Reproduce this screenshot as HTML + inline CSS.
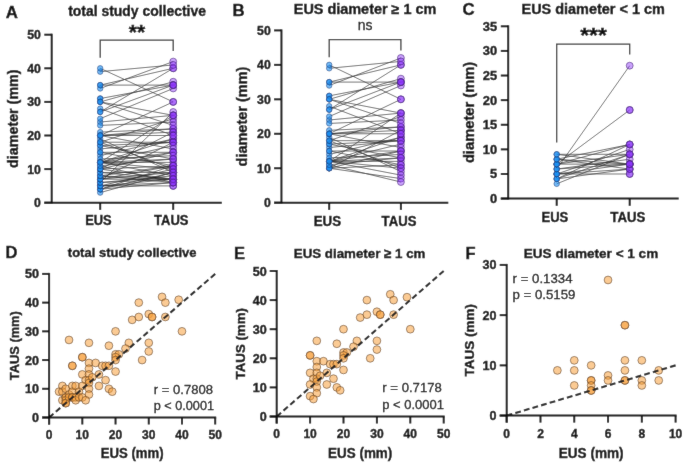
<!DOCTYPE html>
<html><head><meta charset="utf-8"><style>
html,body{margin:0;padding:0;background:#fff;overflow:hidden;}

svg{display:block;font-family:"Liberation Sans", sans-serif;}
</style></head><body>
<svg width="685" height="463" viewBox="0 0 685 463">
<defs><filter id="bl" x="0" y="0" width="685" height="463" filterUnits="userSpaceOnUse"><feConvolveMatrix order="3" kernelMatrix="0.01 0.05 0.01 0.05 0.76 0.05 0.01 0.05 0.01" edgeMode="duplicate" preserveAlpha="true"/></filter></defs>
<g filter="url(#bl)"><rect width="685" height="463" fill="#fff"/>
<text x="5.80" y="18.00" font-size="16.8" font-weight="bold" text-anchor="start" fill="#111" stroke="#111" stroke-width="0.4" >A</text>
<text x="137.10" y="16.00" font-size="14" font-weight="bold" text-anchor="middle" fill="#111" stroke="#111" stroke-width="0.4" textLength="137.80" lengthAdjust="spacingAndGlyphs" >total study collective</text>
<line x1="100.20" y1="192.62" x2="173.20" y2="172.46" stroke="#1c1c1c" stroke-width="0.62" />
<line x1="100.20" y1="189.26" x2="173.20" y2="182.54" stroke="#1c1c1c" stroke-width="0.62" />
<line x1="100.20" y1="189.26" x2="173.20" y2="172.46" stroke="#1c1c1c" stroke-width="0.62" />
<line x1="100.20" y1="189.26" x2="173.20" y2="165.74" stroke="#1c1c1c" stroke-width="0.62" />
<line x1="100.20" y1="185.90" x2="173.20" y2="185.90" stroke="#1c1c1c" stroke-width="0.62" />
<line x1="100.20" y1="185.90" x2="173.20" y2="182.54" stroke="#1c1c1c" stroke-width="0.62" />
<line x1="100.20" y1="185.90" x2="173.20" y2="179.18" stroke="#1c1c1c" stroke-width="0.62" />
<line x1="100.20" y1="185.90" x2="173.20" y2="169.10" stroke="#1c1c1c" stroke-width="0.62" />
<line x1="100.20" y1="182.54" x2="173.20" y2="179.18" stroke="#1c1c1c" stroke-width="0.62" />
<line x1="100.20" y1="182.54" x2="173.20" y2="175.82" stroke="#1c1c1c" stroke-width="0.62" />
<line x1="100.20" y1="182.54" x2="173.20" y2="111.98" stroke="#1c1c1c" stroke-width="0.62" />
<line x1="100.20" y1="179.18" x2="173.20" y2="179.18" stroke="#1c1c1c" stroke-width="0.62" />
<line x1="100.20" y1="179.18" x2="173.20" y2="172.46" stroke="#1c1c1c" stroke-width="0.62" />
<line x1="100.20" y1="179.18" x2="173.20" y2="165.74" stroke="#1c1c1c" stroke-width="0.62" />
<line x1="100.20" y1="179.18" x2="173.20" y2="142.22" stroke="#1c1c1c" stroke-width="0.62" />
<line x1="100.20" y1="175.82" x2="173.20" y2="182.54" stroke="#1c1c1c" stroke-width="0.62" />
<line x1="100.20" y1="175.82" x2="173.20" y2="179.18" stroke="#1c1c1c" stroke-width="0.62" />
<line x1="100.20" y1="175.82" x2="173.20" y2="165.74" stroke="#1c1c1c" stroke-width="0.62" />
<line x1="100.20" y1="172.46" x2="173.20" y2="179.18" stroke="#1c1c1c" stroke-width="0.62" />
<line x1="100.20" y1="172.46" x2="173.20" y2="172.46" stroke="#1c1c1c" stroke-width="0.62" />
<line x1="100.20" y1="169.10" x2="173.20" y2="179.18" stroke="#1c1c1c" stroke-width="0.62" />
<line x1="100.20" y1="169.10" x2="173.20" y2="165.74" stroke="#1c1c1c" stroke-width="0.62" />
<line x1="100.20" y1="169.10" x2="173.20" y2="152.30" stroke="#1c1c1c" stroke-width="0.62" />
<line x1="100.20" y1="169.10" x2="173.20" y2="132.14" stroke="#1c1c1c" stroke-width="0.62" />
<line x1="100.20" y1="165.74" x2="173.20" y2="182.54" stroke="#1c1c1c" stroke-width="0.62" />
<line x1="100.20" y1="165.74" x2="173.20" y2="159.02" stroke="#1c1c1c" stroke-width="0.62" />
<line x1="100.20" y1="162.38" x2="173.20" y2="175.82" stroke="#1c1c1c" stroke-width="0.62" />
<line x1="100.20" y1="162.38" x2="173.20" y2="169.10" stroke="#1c1c1c" stroke-width="0.62" />
<line x1="100.20" y1="162.38" x2="173.20" y2="162.38" stroke="#1c1c1c" stroke-width="0.62" />
<line x1="100.20" y1="162.38" x2="173.20" y2="159.02" stroke="#1c1c1c" stroke-width="0.62" />
<line x1="100.20" y1="162.38" x2="173.20" y2="152.30" stroke="#1c1c1c" stroke-width="0.62" />
<line x1="100.20" y1="162.38" x2="173.20" y2="145.58" stroke="#1c1c1c" stroke-width="0.62" />
<line x1="100.20" y1="162.38" x2="173.20" y2="138.86" stroke="#1c1c1c" stroke-width="0.62" />
<line x1="100.20" y1="162.38" x2="173.20" y2="115.34" stroke="#1c1c1c" stroke-width="0.62" />
<line x1="100.20" y1="159.02" x2="173.20" y2="155.66" stroke="#1c1c1c" stroke-width="0.62" />
<line x1="100.20" y1="155.66" x2="173.20" y2="138.86" stroke="#1c1c1c" stroke-width="0.62" />
<line x1="100.20" y1="152.30" x2="173.20" y2="165.74" stroke="#1c1c1c" stroke-width="0.62" />
<line x1="100.20" y1="152.30" x2="173.20" y2="152.30" stroke="#1c1c1c" stroke-width="0.62" />
<line x1="100.20" y1="148.94" x2="173.20" y2="142.22" stroke="#1c1c1c" stroke-width="0.62" />
<line x1="100.20" y1="145.58" x2="173.20" y2="159.02" stroke="#1c1c1c" stroke-width="0.62" />
<line x1="100.20" y1="145.58" x2="173.20" y2="142.22" stroke="#1c1c1c" stroke-width="0.62" />
<line x1="100.20" y1="142.22" x2="173.20" y2="169.10" stroke="#1c1c1c" stroke-width="0.62" />
<line x1="100.20" y1="142.22" x2="173.20" y2="142.22" stroke="#1c1c1c" stroke-width="0.62" />
<line x1="100.20" y1="142.22" x2="173.20" y2="118.70" stroke="#1c1c1c" stroke-width="0.62" />
<line x1="100.20" y1="138.86" x2="173.20" y2="172.46" stroke="#1c1c1c" stroke-width="0.62" />
<line x1="100.20" y1="135.50" x2="173.20" y2="148.94" stroke="#1c1c1c" stroke-width="0.62" />
<line x1="100.20" y1="135.50" x2="173.20" y2="135.50" stroke="#1c1c1c" stroke-width="0.62" />
<line x1="100.20" y1="135.50" x2="173.20" y2="132.14" stroke="#1c1c1c" stroke-width="0.62" />
<line x1="100.20" y1="135.50" x2="173.20" y2="128.78" stroke="#1c1c1c" stroke-width="0.62" />
<line x1="100.20" y1="135.50" x2="173.20" y2="101.90" stroke="#1c1c1c" stroke-width="0.62" />
<line x1="100.20" y1="132.14" x2="173.20" y2="128.78" stroke="#1c1c1c" stroke-width="0.62" />
<line x1="100.20" y1="125.42" x2="173.20" y2="122.06" stroke="#1c1c1c" stroke-width="0.62" />
<line x1="100.20" y1="122.06" x2="173.20" y2="115.34" stroke="#1c1c1c" stroke-width="0.62" />
<line x1="100.20" y1="118.70" x2="173.20" y2="88.46" stroke="#1c1c1c" stroke-width="0.62" />
<line x1="100.20" y1="111.98" x2="173.20" y2="85.10" stroke="#1c1c1c" stroke-width="0.62" />
<line x1="100.20" y1="111.98" x2="173.20" y2="68.30" stroke="#1c1c1c" stroke-width="0.62" />
<line x1="100.20" y1="108.62" x2="173.20" y2="135.50" stroke="#1c1c1c" stroke-width="0.62" />
<line x1="100.20" y1="101.90" x2="173.20" y2="125.42" stroke="#1c1c1c" stroke-width="0.62" />
<line x1="100.20" y1="101.90" x2="173.20" y2="115.34" stroke="#1c1c1c" stroke-width="0.62" />
<line x1="100.20" y1="101.90" x2="173.20" y2="81.74" stroke="#1c1c1c" stroke-width="0.62" />
<line x1="100.20" y1="98.54" x2="173.20" y2="85.10" stroke="#1c1c1c" stroke-width="0.62" />
<line x1="100.20" y1="88.46" x2="173.20" y2="61.58" stroke="#1c1c1c" stroke-width="0.62" />
<line x1="100.20" y1="85.10" x2="173.20" y2="85.10" stroke="#1c1c1c" stroke-width="0.62" />
<line x1="100.20" y1="85.10" x2="173.20" y2="68.30" stroke="#1c1c1c" stroke-width="0.62" />
<line x1="100.20" y1="71.66" x2="173.20" y2="64.94" stroke="#1c1c1c" stroke-width="0.62" />
<line x1="100.20" y1="68.30" x2="173.20" y2="101.90" stroke="#1c1c1c" stroke-width="0.62" />
<circle cx="100.20" cy="192.62" r="2.75" fill="rgba(30,144,240,0.62)" stroke="rgba(20,60,120,0.75)" stroke-width="0.7"/>
<circle cx="100.20" cy="189.26" r="2.75" fill="rgba(30,144,240,0.62)" stroke="rgba(20,60,120,0.75)" stroke-width="0.7"/>
<circle cx="100.20" cy="189.26" r="2.75" fill="rgba(30,144,240,0.62)" stroke="rgba(20,60,120,0.75)" stroke-width="0.7"/>
<circle cx="100.20" cy="189.26" r="2.75" fill="rgba(30,144,240,0.62)" stroke="rgba(20,60,120,0.75)" stroke-width="0.7"/>
<circle cx="100.20" cy="185.90" r="2.75" fill="rgba(30,144,240,0.62)" stroke="rgba(20,60,120,0.75)" stroke-width="0.7"/>
<circle cx="100.20" cy="185.90" r="2.75" fill="rgba(30,144,240,0.62)" stroke="rgba(20,60,120,0.75)" stroke-width="0.7"/>
<circle cx="100.20" cy="185.90" r="2.75" fill="rgba(30,144,240,0.62)" stroke="rgba(20,60,120,0.75)" stroke-width="0.7"/>
<circle cx="100.20" cy="185.90" r="2.75" fill="rgba(30,144,240,0.62)" stroke="rgba(20,60,120,0.75)" stroke-width="0.7"/>
<circle cx="100.20" cy="185.90" r="2.75" fill="rgba(30,144,240,0.62)" stroke="rgba(20,60,120,0.75)" stroke-width="0.7"/>
<circle cx="100.20" cy="185.90" r="2.75" fill="rgba(30,144,240,0.62)" stroke="rgba(20,60,120,0.75)" stroke-width="0.7"/>
<circle cx="100.20" cy="182.54" r="2.75" fill="rgba(30,144,240,0.62)" stroke="rgba(20,60,120,0.75)" stroke-width="0.7"/>
<circle cx="100.20" cy="182.54" r="2.75" fill="rgba(30,144,240,0.62)" stroke="rgba(20,60,120,0.75)" stroke-width="0.7"/>
<circle cx="100.20" cy="182.54" r="2.75" fill="rgba(30,144,240,0.62)" stroke="rgba(20,60,120,0.75)" stroke-width="0.7"/>
<circle cx="100.20" cy="179.18" r="2.75" fill="rgba(30,144,240,0.62)" stroke="rgba(20,60,120,0.75)" stroke-width="0.7"/>
<circle cx="100.20" cy="179.18" r="2.75" fill="rgba(30,144,240,0.62)" stroke="rgba(20,60,120,0.75)" stroke-width="0.7"/>
<circle cx="100.20" cy="179.18" r="2.75" fill="rgba(30,144,240,0.62)" stroke="rgba(20,60,120,0.75)" stroke-width="0.7"/>
<circle cx="100.20" cy="179.18" r="2.75" fill="rgba(30,144,240,0.62)" stroke="rgba(20,60,120,0.75)" stroke-width="0.7"/>
<circle cx="100.20" cy="179.18" r="2.75" fill="rgba(30,144,240,0.62)" stroke="rgba(20,60,120,0.75)" stroke-width="0.7"/>
<circle cx="100.20" cy="179.18" r="2.75" fill="rgba(30,144,240,0.62)" stroke="rgba(20,60,120,0.75)" stroke-width="0.7"/>
<circle cx="100.20" cy="175.82" r="2.75" fill="rgba(30,144,240,0.62)" stroke="rgba(20,60,120,0.75)" stroke-width="0.7"/>
<circle cx="100.20" cy="175.82" r="2.75" fill="rgba(30,144,240,0.62)" stroke="rgba(20,60,120,0.75)" stroke-width="0.7"/>
<circle cx="100.20" cy="175.82" r="2.75" fill="rgba(30,144,240,0.62)" stroke="rgba(20,60,120,0.75)" stroke-width="0.7"/>
<circle cx="100.20" cy="172.46" r="2.75" fill="rgba(30,144,240,0.62)" stroke="rgba(20,60,120,0.75)" stroke-width="0.7"/>
<circle cx="100.20" cy="172.46" r="2.75" fill="rgba(30,144,240,0.62)" stroke="rgba(20,60,120,0.75)" stroke-width="0.7"/>
<circle cx="100.20" cy="169.10" r="2.75" fill="rgba(30,144,240,0.62)" stroke="rgba(20,60,120,0.75)" stroke-width="0.7"/>
<circle cx="100.20" cy="169.10" r="2.75" fill="rgba(30,144,240,0.62)" stroke="rgba(20,60,120,0.75)" stroke-width="0.7"/>
<circle cx="100.20" cy="162.38" r="2.75" fill="rgba(30,144,240,0.62)" stroke="rgba(20,60,120,0.75)" stroke-width="0.7"/>
<circle cx="100.20" cy="155.66" r="2.75" fill="rgba(30,144,240,0.62)" stroke="rgba(20,60,120,0.75)" stroke-width="0.7"/>
<circle cx="100.20" cy="148.94" r="2.75" fill="rgba(30,144,240,0.62)" stroke="rgba(20,60,120,0.75)" stroke-width="0.7"/>
<circle cx="100.20" cy="145.58" r="2.75" fill="rgba(30,144,240,0.62)" stroke="rgba(20,60,120,0.75)" stroke-width="0.7"/>
<circle cx="100.20" cy="142.22" r="2.75" fill="rgba(30,144,240,0.62)" stroke="rgba(20,60,120,0.75)" stroke-width="0.7"/>
<circle cx="100.20" cy="162.38" r="2.75" fill="rgba(30,144,240,0.62)" stroke="rgba(20,60,120,0.75)" stroke-width="0.7"/>
<circle cx="100.20" cy="135.50" r="2.75" fill="rgba(30,144,240,0.62)" stroke="rgba(20,60,120,0.75)" stroke-width="0.7"/>
<circle cx="100.20" cy="169.10" r="2.75" fill="rgba(30,144,240,0.62)" stroke="rgba(20,60,120,0.75)" stroke-width="0.7"/>
<circle cx="100.20" cy="162.38" r="2.75" fill="rgba(30,144,240,0.62)" stroke="rgba(20,60,120,0.75)" stroke-width="0.7"/>
<circle cx="100.20" cy="152.30" r="2.75" fill="rgba(30,144,240,0.62)" stroke="rgba(20,60,120,0.75)" stroke-width="0.7"/>
<circle cx="100.20" cy="165.74" r="2.75" fill="rgba(30,144,240,0.62)" stroke="rgba(20,60,120,0.75)" stroke-width="0.7"/>
<circle cx="100.20" cy="162.38" r="2.75" fill="rgba(30,144,240,0.62)" stroke="rgba(20,60,120,0.75)" stroke-width="0.7"/>
<circle cx="100.20" cy="162.38" r="2.75" fill="rgba(30,144,240,0.62)" stroke="rgba(20,60,120,0.75)" stroke-width="0.7"/>
<circle cx="100.20" cy="159.02" r="2.75" fill="rgba(30,144,240,0.62)" stroke="rgba(20,60,120,0.75)" stroke-width="0.7"/>
<circle cx="100.20" cy="145.58" r="2.75" fill="rgba(30,144,240,0.62)" stroke="rgba(20,60,120,0.75)" stroke-width="0.7"/>
<circle cx="100.20" cy="169.10" r="2.75" fill="rgba(30,144,240,0.62)" stroke="rgba(20,60,120,0.75)" stroke-width="0.7"/>
<circle cx="100.20" cy="162.38" r="2.75" fill="rgba(30,144,240,0.62)" stroke="rgba(20,60,120,0.75)" stroke-width="0.7"/>
<circle cx="100.20" cy="152.30" r="2.75" fill="rgba(30,144,240,0.62)" stroke="rgba(20,60,120,0.75)" stroke-width="0.7"/>
<circle cx="100.20" cy="142.22" r="2.75" fill="rgba(30,144,240,0.62)" stroke="rgba(20,60,120,0.75)" stroke-width="0.7"/>
<circle cx="100.20" cy="138.86" r="2.75" fill="rgba(30,144,240,0.62)" stroke="rgba(20,60,120,0.75)" stroke-width="0.7"/>
<circle cx="100.20" cy="162.38" r="2.75" fill="rgba(30,144,240,0.62)" stroke="rgba(20,60,120,0.75)" stroke-width="0.7"/>
<circle cx="100.20" cy="169.10" r="2.75" fill="rgba(30,144,240,0.62)" stroke="rgba(20,60,120,0.75)" stroke-width="0.7"/>
<circle cx="100.20" cy="165.74" r="2.75" fill="rgba(30,144,240,0.62)" stroke="rgba(20,60,120,0.75)" stroke-width="0.7"/>
<circle cx="100.20" cy="162.38" r="2.75" fill="rgba(30,144,240,0.62)" stroke="rgba(20,60,120,0.75)" stroke-width="0.7"/>
<circle cx="100.20" cy="142.22" r="2.75" fill="rgba(30,144,240,0.62)" stroke="rgba(20,60,120,0.75)" stroke-width="0.7"/>
<circle cx="100.20" cy="135.50" r="2.75" fill="rgba(30,144,240,0.62)" stroke="rgba(20,60,120,0.75)" stroke-width="0.7"/>
<circle cx="100.20" cy="122.06" r="2.75" fill="rgba(30,144,240,0.62)" stroke="rgba(20,60,120,0.75)" stroke-width="0.7"/>
<circle cx="100.20" cy="125.42" r="2.75" fill="rgba(30,144,240,0.62)" stroke="rgba(20,60,120,0.75)" stroke-width="0.7"/>
<circle cx="100.20" cy="135.50" r="2.75" fill="rgba(30,144,240,0.62)" stroke="rgba(20,60,120,0.75)" stroke-width="0.7"/>
<circle cx="100.20" cy="132.14" r="2.75" fill="rgba(30,144,240,0.62)" stroke="rgba(20,60,120,0.75)" stroke-width="0.7"/>
<circle cx="100.20" cy="135.50" r="2.75" fill="rgba(30,144,240,0.62)" stroke="rgba(20,60,120,0.75)" stroke-width="0.7"/>
<circle cx="100.20" cy="135.50" r="2.75" fill="rgba(30,144,240,0.62)" stroke="rgba(20,60,120,0.75)" stroke-width="0.7"/>
<circle cx="100.20" cy="108.62" r="2.75" fill="rgba(30,144,240,0.62)" stroke="rgba(20,60,120,0.75)" stroke-width="0.7"/>
<circle cx="100.20" cy="111.98" r="2.75" fill="rgba(30,144,240,0.62)" stroke="rgba(20,60,120,0.75)" stroke-width="0.7"/>
<circle cx="100.20" cy="118.70" r="2.75" fill="rgba(30,144,240,0.62)" stroke="rgba(20,60,120,0.75)" stroke-width="0.7"/>
<circle cx="100.20" cy="111.98" r="2.75" fill="rgba(30,144,240,0.62)" stroke="rgba(20,60,120,0.75)" stroke-width="0.7"/>
<circle cx="100.20" cy="101.90" r="2.75" fill="rgba(30,144,240,0.62)" stroke="rgba(20,60,120,0.75)" stroke-width="0.7"/>
<circle cx="100.20" cy="98.54" r="2.75" fill="rgba(30,144,240,0.62)" stroke="rgba(20,60,120,0.75)" stroke-width="0.7"/>
<circle cx="100.20" cy="98.54" r="2.75" fill="rgba(30,144,240,0.62)" stroke="rgba(20,60,120,0.75)" stroke-width="0.7"/>
<circle cx="100.20" cy="85.10" r="2.75" fill="rgba(30,144,240,0.62)" stroke="rgba(20,60,120,0.75)" stroke-width="0.7"/>
<circle cx="100.20" cy="88.46" r="2.75" fill="rgba(30,144,240,0.62)" stroke="rgba(20,60,120,0.75)" stroke-width="0.7"/>
<circle cx="100.20" cy="85.10" r="2.75" fill="rgba(30,144,240,0.62)" stroke="rgba(20,60,120,0.75)" stroke-width="0.7"/>
<circle cx="100.20" cy="71.66" r="2.75" fill="rgba(30,144,240,0.62)" stroke="rgba(20,60,120,0.75)" stroke-width="0.7"/>
<circle cx="100.20" cy="68.30" r="2.75" fill="rgba(30,144,240,0.62)" stroke="rgba(20,60,120,0.75)" stroke-width="0.7"/>
<circle cx="100.20" cy="101.90" r="2.75" fill="rgba(30,144,240,0.62)" stroke="rgba(20,60,120,0.75)" stroke-width="0.7"/>
<circle cx="100.20" cy="101.90" r="2.75" fill="rgba(30,144,240,0.62)" stroke="rgba(20,60,120,0.75)" stroke-width="0.7"/>
<circle cx="173.20" cy="172.46" r="3.45" fill="rgba(140,50,250,0.45)" stroke="rgba(70,30,120,0.75)" stroke-width="0.8"/>
<circle cx="173.20" cy="165.74" r="3.45" fill="rgba(140,50,250,0.45)" stroke="rgba(70,30,120,0.75)" stroke-width="0.8"/>
<circle cx="173.20" cy="172.46" r="3.45" fill="rgba(140,50,250,0.45)" stroke="rgba(70,30,120,0.75)" stroke-width="0.8"/>
<circle cx="173.20" cy="182.54" r="3.45" fill="rgba(140,50,250,0.45)" stroke="rgba(70,30,120,0.75)" stroke-width="0.8"/>
<circle cx="173.20" cy="169.10" r="3.45" fill="rgba(140,50,250,0.45)" stroke="rgba(70,30,120,0.75)" stroke-width="0.8"/>
<circle cx="173.20" cy="179.18" r="3.45" fill="rgba(140,50,250,0.45)" stroke="rgba(70,30,120,0.75)" stroke-width="0.8"/>
<circle cx="173.20" cy="179.18" r="3.45" fill="rgba(140,50,250,0.45)" stroke="rgba(70,30,120,0.75)" stroke-width="0.8"/>
<circle cx="173.20" cy="182.54" r="3.45" fill="rgba(140,50,250,0.45)" stroke="rgba(70,30,120,0.75)" stroke-width="0.8"/>
<circle cx="173.20" cy="185.90" r="3.45" fill="rgba(140,50,250,0.45)" stroke="rgba(70,30,120,0.75)" stroke-width="0.8"/>
<circle cx="173.20" cy="185.90" r="3.45" fill="rgba(140,50,250,0.45)" stroke="rgba(70,30,120,0.75)" stroke-width="0.8"/>
<circle cx="173.20" cy="111.98" r="3.45" fill="rgba(140,50,250,0.45)" stroke="rgba(70,30,120,0.75)" stroke-width="0.8"/>
<circle cx="173.20" cy="175.82" r="3.45" fill="rgba(140,50,250,0.45)" stroke="rgba(70,30,120,0.75)" stroke-width="0.8"/>
<circle cx="173.20" cy="179.18" r="3.45" fill="rgba(140,50,250,0.45)" stroke="rgba(70,30,120,0.75)" stroke-width="0.8"/>
<circle cx="173.20" cy="142.22" r="3.45" fill="rgba(140,50,250,0.45)" stroke="rgba(70,30,120,0.75)" stroke-width="0.8"/>
<circle cx="173.20" cy="142.22" r="3.45" fill="rgba(140,50,250,0.45)" stroke="rgba(70,30,120,0.75)" stroke-width="0.8"/>
<circle cx="173.20" cy="165.74" r="3.45" fill="rgba(140,50,250,0.45)" stroke="rgba(70,30,120,0.75)" stroke-width="0.8"/>
<circle cx="173.20" cy="172.46" r="3.45" fill="rgba(140,50,250,0.45)" stroke="rgba(70,30,120,0.75)" stroke-width="0.8"/>
<circle cx="173.20" cy="179.18" r="3.45" fill="rgba(140,50,250,0.45)" stroke="rgba(70,30,120,0.75)" stroke-width="0.8"/>
<circle cx="173.20" cy="179.18" r="3.45" fill="rgba(140,50,250,0.45)" stroke="rgba(70,30,120,0.75)" stroke-width="0.8"/>
<circle cx="173.20" cy="165.74" r="3.45" fill="rgba(140,50,250,0.45)" stroke="rgba(70,30,120,0.75)" stroke-width="0.8"/>
<circle cx="173.20" cy="179.18" r="3.45" fill="rgba(140,50,250,0.45)" stroke="rgba(70,30,120,0.75)" stroke-width="0.8"/>
<circle cx="173.20" cy="182.54" r="3.45" fill="rgba(140,50,250,0.45)" stroke="rgba(70,30,120,0.75)" stroke-width="0.8"/>
<circle cx="173.20" cy="172.46" r="3.45" fill="rgba(140,50,250,0.45)" stroke="rgba(70,30,120,0.75)" stroke-width="0.8"/>
<circle cx="173.20" cy="179.18" r="3.45" fill="rgba(140,50,250,0.45)" stroke="rgba(70,30,120,0.75)" stroke-width="0.8"/>
<circle cx="173.20" cy="132.14" r="3.45" fill="rgba(140,50,250,0.45)" stroke="rgba(70,30,120,0.75)" stroke-width="0.8"/>
<circle cx="173.20" cy="132.14" r="3.45" fill="rgba(140,50,250,0.45)" stroke="rgba(70,30,120,0.75)" stroke-width="0.8"/>
<circle cx="173.20" cy="138.86" r="3.45" fill="rgba(140,50,250,0.45)" stroke="rgba(70,30,120,0.75)" stroke-width="0.8"/>
<circle cx="173.20" cy="138.86" r="3.45" fill="rgba(140,50,250,0.45)" stroke="rgba(70,30,120,0.75)" stroke-width="0.8"/>
<circle cx="173.20" cy="142.22" r="3.45" fill="rgba(140,50,250,0.45)" stroke="rgba(70,30,120,0.75)" stroke-width="0.8"/>
<circle cx="173.20" cy="142.22" r="3.45" fill="rgba(140,50,250,0.45)" stroke="rgba(70,30,120,0.75)" stroke-width="0.8"/>
<circle cx="173.20" cy="142.22" r="3.45" fill="rgba(140,50,250,0.45)" stroke="rgba(70,30,120,0.75)" stroke-width="0.8"/>
<circle cx="173.20" cy="145.58" r="3.45" fill="rgba(140,50,250,0.45)" stroke="rgba(70,30,120,0.75)" stroke-width="0.8"/>
<circle cx="173.20" cy="148.94" r="3.45" fill="rgba(140,50,250,0.45)" stroke="rgba(70,30,120,0.75)" stroke-width="0.8"/>
<circle cx="173.20" cy="152.30" r="3.45" fill="rgba(140,50,250,0.45)" stroke="rgba(70,30,120,0.75)" stroke-width="0.8"/>
<circle cx="173.20" cy="152.30" r="3.45" fill="rgba(140,50,250,0.45)" stroke="rgba(70,30,120,0.75)" stroke-width="0.8"/>
<circle cx="173.20" cy="152.30" r="3.45" fill="rgba(140,50,250,0.45)" stroke="rgba(70,30,120,0.75)" stroke-width="0.8"/>
<circle cx="173.20" cy="159.02" r="3.45" fill="rgba(140,50,250,0.45)" stroke="rgba(70,30,120,0.75)" stroke-width="0.8"/>
<circle cx="173.20" cy="159.02" r="3.45" fill="rgba(140,50,250,0.45)" stroke="rgba(70,30,120,0.75)" stroke-width="0.8"/>
<circle cx="173.20" cy="162.38" r="3.45" fill="rgba(140,50,250,0.45)" stroke="rgba(70,30,120,0.75)" stroke-width="0.8"/>
<circle cx="173.20" cy="155.66" r="3.45" fill="rgba(140,50,250,0.45)" stroke="rgba(70,30,120,0.75)" stroke-width="0.8"/>
<circle cx="173.20" cy="159.02" r="3.45" fill="rgba(140,50,250,0.45)" stroke="rgba(70,30,120,0.75)" stroke-width="0.8"/>
<circle cx="173.20" cy="165.74" r="3.45" fill="rgba(140,50,250,0.45)" stroke="rgba(70,30,120,0.75)" stroke-width="0.8"/>
<circle cx="173.20" cy="169.10" r="3.45" fill="rgba(140,50,250,0.45)" stroke="rgba(70,30,120,0.75)" stroke-width="0.8"/>
<circle cx="173.20" cy="165.74" r="3.45" fill="rgba(140,50,250,0.45)" stroke="rgba(70,30,120,0.75)" stroke-width="0.8"/>
<circle cx="173.20" cy="169.10" r="3.45" fill="rgba(140,50,250,0.45)" stroke="rgba(70,30,120,0.75)" stroke-width="0.8"/>
<circle cx="173.20" cy="172.46" r="3.45" fill="rgba(140,50,250,0.45)" stroke="rgba(70,30,120,0.75)" stroke-width="0.8"/>
<circle cx="173.20" cy="175.82" r="3.45" fill="rgba(140,50,250,0.45)" stroke="rgba(70,30,120,0.75)" stroke-width="0.8"/>
<circle cx="173.20" cy="179.18" r="3.45" fill="rgba(140,50,250,0.45)" stroke="rgba(70,30,120,0.75)" stroke-width="0.8"/>
<circle cx="173.20" cy="182.54" r="3.45" fill="rgba(140,50,250,0.45)" stroke="rgba(70,30,120,0.75)" stroke-width="0.8"/>
<circle cx="173.20" cy="115.34" r="3.45" fill="rgba(140,50,250,0.45)" stroke="rgba(70,30,120,0.75)" stroke-width="0.8"/>
<circle cx="173.20" cy="118.70" r="3.45" fill="rgba(140,50,250,0.45)" stroke="rgba(70,30,120,0.75)" stroke-width="0.8"/>
<circle cx="173.20" cy="101.90" r="3.45" fill="rgba(140,50,250,0.45)" stroke="rgba(70,30,120,0.75)" stroke-width="0.8"/>
<circle cx="173.20" cy="115.34" r="3.45" fill="rgba(140,50,250,0.45)" stroke="rgba(70,30,120,0.75)" stroke-width="0.8"/>
<circle cx="173.20" cy="122.06" r="3.45" fill="rgba(140,50,250,0.45)" stroke="rgba(70,30,120,0.75)" stroke-width="0.8"/>
<circle cx="173.20" cy="128.78" r="3.45" fill="rgba(140,50,250,0.45)" stroke="rgba(70,30,120,0.75)" stroke-width="0.8"/>
<circle cx="173.20" cy="128.78" r="3.45" fill="rgba(140,50,250,0.45)" stroke="rgba(70,30,120,0.75)" stroke-width="0.8"/>
<circle cx="173.20" cy="132.14" r="3.45" fill="rgba(140,50,250,0.45)" stroke="rgba(70,30,120,0.75)" stroke-width="0.8"/>
<circle cx="173.20" cy="135.50" r="3.45" fill="rgba(140,50,250,0.45)" stroke="rgba(70,30,120,0.75)" stroke-width="0.8"/>
<circle cx="173.20" cy="135.50" r="3.45" fill="rgba(140,50,250,0.45)" stroke="rgba(70,30,120,0.75)" stroke-width="0.8"/>
<circle cx="173.20" cy="68.30" r="3.45" fill="rgba(140,50,250,0.45)" stroke="rgba(70,30,120,0.75)" stroke-width="0.8"/>
<circle cx="173.20" cy="88.46" r="3.45" fill="rgba(140,50,250,0.45)" stroke="rgba(70,30,120,0.75)" stroke-width="0.8"/>
<circle cx="173.20" cy="85.10" r="3.45" fill="rgba(140,50,250,0.45)" stroke="rgba(70,30,120,0.75)" stroke-width="0.8"/>
<circle cx="173.20" cy="81.74" r="3.45" fill="rgba(140,50,250,0.45)" stroke="rgba(70,30,120,0.75)" stroke-width="0.8"/>
<circle cx="173.20" cy="85.10" r="3.45" fill="rgba(140,50,250,0.45)" stroke="rgba(70,30,120,0.75)" stroke-width="0.8"/>
<circle cx="173.20" cy="85.10" r="3.45" fill="rgba(140,50,250,0.45)" stroke="rgba(70,30,120,0.75)" stroke-width="0.8"/>
<circle cx="173.20" cy="85.10" r="3.45" fill="rgba(140,50,250,0.45)" stroke="rgba(70,30,120,0.75)" stroke-width="0.8"/>
<circle cx="173.20" cy="61.58" r="3.45" fill="rgba(140,50,250,0.45)" stroke="rgba(70,30,120,0.75)" stroke-width="0.8"/>
<circle cx="173.20" cy="68.30" r="3.45" fill="rgba(140,50,250,0.45)" stroke="rgba(70,30,120,0.75)" stroke-width="0.8"/>
<circle cx="173.20" cy="64.94" r="3.45" fill="rgba(140,50,250,0.45)" stroke="rgba(70,30,120,0.75)" stroke-width="0.8"/>
<circle cx="173.20" cy="101.90" r="3.45" fill="rgba(140,50,250,0.45)" stroke="rgba(70,30,120,0.75)" stroke-width="0.8"/>
<circle cx="173.20" cy="115.34" r="3.45" fill="rgba(140,50,250,0.45)" stroke="rgba(70,30,120,0.75)" stroke-width="0.8"/>
<circle cx="173.20" cy="125.42" r="3.45" fill="rgba(140,50,250,0.45)" stroke="rgba(70,30,120,0.75)" stroke-width="0.8"/>
<line x1="51.70" y1="33.70" x2="51.70" y2="203.70" stroke="#111" stroke-width="2" />
<line x1="44.30" y1="202.70" x2="221.80" y2="202.70" stroke="#111" stroke-width="2" />
<line x1="44.30" y1="202.70" x2="51.70" y2="202.70" stroke="#111" stroke-width="2" />
<text x="40.80" y="207.20" font-size="12.8" font-weight="bold" text-anchor="end" fill="#111" stroke="#111" stroke-width="0.4" textLength="6.80" lengthAdjust="spacingAndGlyphs" >0</text>
<line x1="44.30" y1="169.10" x2="51.70" y2="169.10" stroke="#111" stroke-width="2" />
<text x="40.80" y="173.60" font-size="12.8" font-weight="bold" text-anchor="end" fill="#111" stroke="#111" stroke-width="0.4" textLength="13.60" lengthAdjust="spacingAndGlyphs" >10</text>
<line x1="44.30" y1="135.50" x2="51.70" y2="135.50" stroke="#111" stroke-width="2" />
<text x="40.80" y="140.00" font-size="12.8" font-weight="bold" text-anchor="end" fill="#111" stroke="#111" stroke-width="0.4" textLength="13.60" lengthAdjust="spacingAndGlyphs" >20</text>
<line x1="44.30" y1="101.90" x2="51.70" y2="101.90" stroke="#111" stroke-width="2" />
<text x="40.80" y="106.40" font-size="12.8" font-weight="bold" text-anchor="end" fill="#111" stroke="#111" stroke-width="0.4" textLength="13.60" lengthAdjust="spacingAndGlyphs" >30</text>
<line x1="44.30" y1="68.30" x2="51.70" y2="68.30" stroke="#111" stroke-width="2" />
<text x="40.80" y="72.80" font-size="12.8" font-weight="bold" text-anchor="end" fill="#111" stroke="#111" stroke-width="0.4" textLength="13.60" lengthAdjust="spacingAndGlyphs" >40</text>
<line x1="44.30" y1="34.70" x2="51.70" y2="34.70" stroke="#111" stroke-width="2" />
<text x="40.80" y="39.20" font-size="12.8" font-weight="bold" text-anchor="end" fill="#111" stroke="#111" stroke-width="0.4" textLength="13.60" lengthAdjust="spacingAndGlyphs" >50</text>
<line x1="100.20" y1="202.70" x2="100.20" y2="209.90" stroke="#111" stroke-width="2" />
<line x1="173.20" y1="202.70" x2="173.20" y2="209.90" stroke="#111" stroke-width="2" />
<text x="98.40" y="224.60" font-size="13.9" font-weight="bold" text-anchor="middle" fill="#111" stroke="#111" stroke-width="0.4" textLength="26.50" lengthAdjust="spacingAndGlyphs" >EUS</text>
<text x="171.30" y="224.60" font-size="13.9" font-weight="bold" text-anchor="middle" fill="#111" stroke="#111" stroke-width="0.4" textLength="34.50" lengthAdjust="spacingAndGlyphs" >TAUS</text>
<path d="M100.20,57.70 V40.20 H173.20 V51.10" fill="none" stroke="#3a3a3a" stroke-width="1.3"/>
<text x="137.00" y="38.50" font-size="21" font-weight="bold" text-anchor="middle" fill="#111" stroke="#111" stroke-width="0.4" textLength="16.40" lengthAdjust="spacingAndGlyphs" >**</text>
<text x="18.30" y="118.70" font-size="14.3" font-weight="bold" text-anchor="middle" fill="#111" stroke="#111" stroke-width="0.4" textLength="98.50" lengthAdjust="spacingAndGlyphs" transform="rotate(-90 18.30 118.70)" >diameter (mm)</text>
<text x="232.40" y="16.10" font-size="16.8" font-weight="bold" text-anchor="start" fill="#111" stroke="#111" stroke-width="0.4" >B</text>
<text x="365.10" y="13.60" font-size="14" font-weight="bold" text-anchor="middle" fill="#111" stroke="#111" stroke-width="0.4" textLength="142.70" lengthAdjust="spacingAndGlyphs" >EUS diameter ≥ 1 cm</text>
<line x1="329.20" y1="168.24" x2="400.90" y2="178.58" stroke="#1c1c1c" stroke-width="0.62" />
<line x1="329.20" y1="168.24" x2="400.90" y2="164.79" stroke="#1c1c1c" stroke-width="0.62" />
<line x1="329.20" y1="168.24" x2="400.90" y2="151.01" stroke="#1c1c1c" stroke-width="0.62" />
<line x1="329.20" y1="168.24" x2="400.90" y2="130.33" stroke="#1c1c1c" stroke-width="0.62" />
<line x1="329.20" y1="164.79" x2="400.90" y2="182.02" stroke="#1c1c1c" stroke-width="0.62" />
<line x1="329.20" y1="164.79" x2="400.90" y2="157.90" stroke="#1c1c1c" stroke-width="0.62" />
<line x1="329.20" y1="161.35" x2="400.90" y2="175.13" stroke="#1c1c1c" stroke-width="0.62" />
<line x1="329.20" y1="161.35" x2="400.90" y2="168.24" stroke="#1c1c1c" stroke-width="0.62" />
<line x1="329.20" y1="161.35" x2="400.90" y2="161.35" stroke="#1c1c1c" stroke-width="0.62" />
<line x1="329.20" y1="161.35" x2="400.90" y2="157.90" stroke="#1c1c1c" stroke-width="0.62" />
<line x1="329.20" y1="161.35" x2="400.90" y2="151.01" stroke="#1c1c1c" stroke-width="0.62" />
<line x1="329.20" y1="161.35" x2="400.90" y2="144.12" stroke="#1c1c1c" stroke-width="0.62" />
<line x1="329.20" y1="161.35" x2="400.90" y2="137.23" stroke="#1c1c1c" stroke-width="0.62" />
<line x1="329.20" y1="161.35" x2="400.90" y2="113.10" stroke="#1c1c1c" stroke-width="0.62" />
<line x1="329.20" y1="157.90" x2="400.90" y2="154.46" stroke="#1c1c1c" stroke-width="0.62" />
<line x1="329.20" y1="154.46" x2="400.90" y2="137.23" stroke="#1c1c1c" stroke-width="0.62" />
<line x1="329.20" y1="151.01" x2="400.90" y2="164.79" stroke="#1c1c1c" stroke-width="0.62" />
<line x1="329.20" y1="151.01" x2="400.90" y2="151.01" stroke="#1c1c1c" stroke-width="0.62" />
<line x1="329.20" y1="147.56" x2="400.90" y2="140.67" stroke="#1c1c1c" stroke-width="0.62" />
<line x1="329.20" y1="144.12" x2="400.90" y2="157.90" stroke="#1c1c1c" stroke-width="0.62" />
<line x1="329.20" y1="144.12" x2="400.90" y2="140.67" stroke="#1c1c1c" stroke-width="0.62" />
<line x1="329.20" y1="140.67" x2="400.90" y2="168.24" stroke="#1c1c1c" stroke-width="0.62" />
<line x1="329.20" y1="140.67" x2="400.90" y2="140.67" stroke="#1c1c1c" stroke-width="0.62" />
<line x1="329.20" y1="140.67" x2="400.90" y2="116.55" stroke="#1c1c1c" stroke-width="0.62" />
<line x1="329.20" y1="137.23" x2="400.90" y2="171.69" stroke="#1c1c1c" stroke-width="0.62" />
<line x1="329.20" y1="133.78" x2="400.90" y2="147.56" stroke="#1c1c1c" stroke-width="0.62" />
<line x1="329.20" y1="133.78" x2="400.90" y2="133.78" stroke="#1c1c1c" stroke-width="0.62" />
<line x1="329.20" y1="133.78" x2="400.90" y2="130.33" stroke="#1c1c1c" stroke-width="0.62" />
<line x1="329.20" y1="133.78" x2="400.90" y2="126.89" stroke="#1c1c1c" stroke-width="0.62" />
<line x1="329.20" y1="133.78" x2="400.90" y2="99.32" stroke="#1c1c1c" stroke-width="0.62" />
<line x1="329.20" y1="130.33" x2="400.90" y2="126.89" stroke="#1c1c1c" stroke-width="0.62" />
<line x1="329.20" y1="123.44" x2="400.90" y2="120.00" stroke="#1c1c1c" stroke-width="0.62" />
<line x1="329.20" y1="120.00" x2="400.90" y2="113.10" stroke="#1c1c1c" stroke-width="0.62" />
<line x1="329.20" y1="116.55" x2="400.90" y2="85.54" stroke="#1c1c1c" stroke-width="0.62" />
<line x1="329.20" y1="109.66" x2="400.90" y2="82.09" stroke="#1c1c1c" stroke-width="0.62" />
<line x1="329.20" y1="109.66" x2="400.90" y2="64.86" stroke="#1c1c1c" stroke-width="0.62" />
<line x1="329.20" y1="106.21" x2="400.90" y2="133.78" stroke="#1c1c1c" stroke-width="0.62" />
<line x1="329.20" y1="99.32" x2="400.90" y2="123.44" stroke="#1c1c1c" stroke-width="0.62" />
<line x1="329.20" y1="99.32" x2="400.90" y2="113.10" stroke="#1c1c1c" stroke-width="0.62" />
<line x1="329.20" y1="99.32" x2="400.90" y2="78.64" stroke="#1c1c1c" stroke-width="0.62" />
<line x1="329.20" y1="95.87" x2="400.90" y2="82.09" stroke="#1c1c1c" stroke-width="0.62" />
<line x1="329.20" y1="85.54" x2="400.90" y2="57.97" stroke="#1c1c1c" stroke-width="0.62" />
<line x1="329.20" y1="82.09" x2="400.90" y2="82.09" stroke="#1c1c1c" stroke-width="0.62" />
<line x1="329.20" y1="82.09" x2="400.90" y2="64.86" stroke="#1c1c1c" stroke-width="0.62" />
<line x1="329.20" y1="68.31" x2="400.90" y2="61.41" stroke="#1c1c1c" stroke-width="0.62" />
<line x1="329.20" y1="64.86" x2="400.90" y2="99.32" stroke="#1c1c1c" stroke-width="0.62" />
<circle cx="329.20" cy="168.24" r="2.75" fill="rgba(30,144,240,0.62)" stroke="rgba(20,60,120,0.75)" stroke-width="0.7"/>
<circle cx="329.20" cy="168.24" r="2.75" fill="rgba(30,144,240,0.62)" stroke="rgba(20,60,120,0.75)" stroke-width="0.7"/>
<circle cx="329.20" cy="161.35" r="2.75" fill="rgba(30,144,240,0.62)" stroke="rgba(20,60,120,0.75)" stroke-width="0.7"/>
<circle cx="329.20" cy="154.46" r="2.75" fill="rgba(30,144,240,0.62)" stroke="rgba(20,60,120,0.75)" stroke-width="0.7"/>
<circle cx="329.20" cy="147.56" r="2.75" fill="rgba(30,144,240,0.62)" stroke="rgba(20,60,120,0.75)" stroke-width="0.7"/>
<circle cx="329.20" cy="144.12" r="2.75" fill="rgba(30,144,240,0.62)" stroke="rgba(20,60,120,0.75)" stroke-width="0.7"/>
<circle cx="329.20" cy="140.67" r="2.75" fill="rgba(30,144,240,0.62)" stroke="rgba(20,60,120,0.75)" stroke-width="0.7"/>
<circle cx="329.20" cy="161.35" r="2.75" fill="rgba(30,144,240,0.62)" stroke="rgba(20,60,120,0.75)" stroke-width="0.7"/>
<circle cx="329.20" cy="133.78" r="2.75" fill="rgba(30,144,240,0.62)" stroke="rgba(20,60,120,0.75)" stroke-width="0.7"/>
<circle cx="329.20" cy="168.24" r="2.75" fill="rgba(30,144,240,0.62)" stroke="rgba(20,60,120,0.75)" stroke-width="0.7"/>
<circle cx="329.20" cy="161.35" r="2.75" fill="rgba(30,144,240,0.62)" stroke="rgba(20,60,120,0.75)" stroke-width="0.7"/>
<circle cx="329.20" cy="151.01" r="2.75" fill="rgba(30,144,240,0.62)" stroke="rgba(20,60,120,0.75)" stroke-width="0.7"/>
<circle cx="329.20" cy="164.79" r="2.75" fill="rgba(30,144,240,0.62)" stroke="rgba(20,60,120,0.75)" stroke-width="0.7"/>
<circle cx="329.20" cy="161.35" r="2.75" fill="rgba(30,144,240,0.62)" stroke="rgba(20,60,120,0.75)" stroke-width="0.7"/>
<circle cx="329.20" cy="161.35" r="2.75" fill="rgba(30,144,240,0.62)" stroke="rgba(20,60,120,0.75)" stroke-width="0.7"/>
<circle cx="329.20" cy="157.90" r="2.75" fill="rgba(30,144,240,0.62)" stroke="rgba(20,60,120,0.75)" stroke-width="0.7"/>
<circle cx="329.20" cy="144.12" r="2.75" fill="rgba(30,144,240,0.62)" stroke="rgba(20,60,120,0.75)" stroke-width="0.7"/>
<circle cx="329.20" cy="168.24" r="2.75" fill="rgba(30,144,240,0.62)" stroke="rgba(20,60,120,0.75)" stroke-width="0.7"/>
<circle cx="329.20" cy="161.35" r="2.75" fill="rgba(30,144,240,0.62)" stroke="rgba(20,60,120,0.75)" stroke-width="0.7"/>
<circle cx="329.20" cy="151.01" r="2.75" fill="rgba(30,144,240,0.62)" stroke="rgba(20,60,120,0.75)" stroke-width="0.7"/>
<circle cx="329.20" cy="140.67" r="2.75" fill="rgba(30,144,240,0.62)" stroke="rgba(20,60,120,0.75)" stroke-width="0.7"/>
<circle cx="329.20" cy="137.23" r="2.75" fill="rgba(30,144,240,0.62)" stroke="rgba(20,60,120,0.75)" stroke-width="0.7"/>
<circle cx="329.20" cy="161.35" r="2.75" fill="rgba(30,144,240,0.62)" stroke="rgba(20,60,120,0.75)" stroke-width="0.7"/>
<circle cx="329.20" cy="168.24" r="2.75" fill="rgba(30,144,240,0.62)" stroke="rgba(20,60,120,0.75)" stroke-width="0.7"/>
<circle cx="329.20" cy="164.79" r="2.75" fill="rgba(30,144,240,0.62)" stroke="rgba(20,60,120,0.75)" stroke-width="0.7"/>
<circle cx="329.20" cy="161.35" r="2.75" fill="rgba(30,144,240,0.62)" stroke="rgba(20,60,120,0.75)" stroke-width="0.7"/>
<circle cx="329.20" cy="140.67" r="2.75" fill="rgba(30,144,240,0.62)" stroke="rgba(20,60,120,0.75)" stroke-width="0.7"/>
<circle cx="329.20" cy="133.78" r="2.75" fill="rgba(30,144,240,0.62)" stroke="rgba(20,60,120,0.75)" stroke-width="0.7"/>
<circle cx="329.20" cy="120.00" r="2.75" fill="rgba(30,144,240,0.62)" stroke="rgba(20,60,120,0.75)" stroke-width="0.7"/>
<circle cx="329.20" cy="123.44" r="2.75" fill="rgba(30,144,240,0.62)" stroke="rgba(20,60,120,0.75)" stroke-width="0.7"/>
<circle cx="329.20" cy="133.78" r="2.75" fill="rgba(30,144,240,0.62)" stroke="rgba(20,60,120,0.75)" stroke-width="0.7"/>
<circle cx="329.20" cy="130.33" r="2.75" fill="rgba(30,144,240,0.62)" stroke="rgba(20,60,120,0.75)" stroke-width="0.7"/>
<circle cx="329.20" cy="133.78" r="2.75" fill="rgba(30,144,240,0.62)" stroke="rgba(20,60,120,0.75)" stroke-width="0.7"/>
<circle cx="329.20" cy="133.78" r="2.75" fill="rgba(30,144,240,0.62)" stroke="rgba(20,60,120,0.75)" stroke-width="0.7"/>
<circle cx="329.20" cy="106.21" r="2.75" fill="rgba(30,144,240,0.62)" stroke="rgba(20,60,120,0.75)" stroke-width="0.7"/>
<circle cx="329.20" cy="109.66" r="2.75" fill="rgba(30,144,240,0.62)" stroke="rgba(20,60,120,0.75)" stroke-width="0.7"/>
<circle cx="329.20" cy="116.55" r="2.75" fill="rgba(30,144,240,0.62)" stroke="rgba(20,60,120,0.75)" stroke-width="0.7"/>
<circle cx="329.20" cy="109.66" r="2.75" fill="rgba(30,144,240,0.62)" stroke="rgba(20,60,120,0.75)" stroke-width="0.7"/>
<circle cx="329.20" cy="99.32" r="2.75" fill="rgba(30,144,240,0.62)" stroke="rgba(20,60,120,0.75)" stroke-width="0.7"/>
<circle cx="329.20" cy="95.87" r="2.75" fill="rgba(30,144,240,0.62)" stroke="rgba(20,60,120,0.75)" stroke-width="0.7"/>
<circle cx="329.20" cy="95.87" r="2.75" fill="rgba(30,144,240,0.62)" stroke="rgba(20,60,120,0.75)" stroke-width="0.7"/>
<circle cx="329.20" cy="82.09" r="2.75" fill="rgba(30,144,240,0.62)" stroke="rgba(20,60,120,0.75)" stroke-width="0.7"/>
<circle cx="329.20" cy="85.54" r="2.75" fill="rgba(30,144,240,0.62)" stroke="rgba(20,60,120,0.75)" stroke-width="0.7"/>
<circle cx="329.20" cy="82.09" r="2.75" fill="rgba(30,144,240,0.62)" stroke="rgba(20,60,120,0.75)" stroke-width="0.7"/>
<circle cx="329.20" cy="68.31" r="2.75" fill="rgba(30,144,240,0.62)" stroke="rgba(20,60,120,0.75)" stroke-width="0.7"/>
<circle cx="329.20" cy="64.86" r="2.75" fill="rgba(30,144,240,0.62)" stroke="rgba(20,60,120,0.75)" stroke-width="0.7"/>
<circle cx="329.20" cy="99.32" r="2.75" fill="rgba(30,144,240,0.62)" stroke="rgba(20,60,120,0.75)" stroke-width="0.7"/>
<circle cx="329.20" cy="99.32" r="2.75" fill="rgba(30,144,240,0.62)" stroke="rgba(20,60,120,0.75)" stroke-width="0.7"/>
<circle cx="400.90" cy="130.33" r="3.45" fill="rgba(140,50,250,0.45)" stroke="rgba(70,30,120,0.75)" stroke-width="0.8"/>
<circle cx="400.90" cy="130.33" r="3.45" fill="rgba(140,50,250,0.45)" stroke="rgba(70,30,120,0.75)" stroke-width="0.8"/>
<circle cx="400.90" cy="137.23" r="3.45" fill="rgba(140,50,250,0.45)" stroke="rgba(70,30,120,0.75)" stroke-width="0.8"/>
<circle cx="400.90" cy="137.23" r="3.45" fill="rgba(140,50,250,0.45)" stroke="rgba(70,30,120,0.75)" stroke-width="0.8"/>
<circle cx="400.90" cy="140.67" r="3.45" fill="rgba(140,50,250,0.45)" stroke="rgba(70,30,120,0.75)" stroke-width="0.8"/>
<circle cx="400.90" cy="140.67" r="3.45" fill="rgba(140,50,250,0.45)" stroke="rgba(70,30,120,0.75)" stroke-width="0.8"/>
<circle cx="400.90" cy="140.67" r="3.45" fill="rgba(140,50,250,0.45)" stroke="rgba(70,30,120,0.75)" stroke-width="0.8"/>
<circle cx="400.90" cy="144.12" r="3.45" fill="rgba(140,50,250,0.45)" stroke="rgba(70,30,120,0.75)" stroke-width="0.8"/>
<circle cx="400.90" cy="147.56" r="3.45" fill="rgba(140,50,250,0.45)" stroke="rgba(70,30,120,0.75)" stroke-width="0.8"/>
<circle cx="400.90" cy="151.01" r="3.45" fill="rgba(140,50,250,0.45)" stroke="rgba(70,30,120,0.75)" stroke-width="0.8"/>
<circle cx="400.90" cy="151.01" r="3.45" fill="rgba(140,50,250,0.45)" stroke="rgba(70,30,120,0.75)" stroke-width="0.8"/>
<circle cx="400.90" cy="151.01" r="3.45" fill="rgba(140,50,250,0.45)" stroke="rgba(70,30,120,0.75)" stroke-width="0.8"/>
<circle cx="400.90" cy="157.90" r="3.45" fill="rgba(140,50,250,0.45)" stroke="rgba(70,30,120,0.75)" stroke-width="0.8"/>
<circle cx="400.90" cy="157.90" r="3.45" fill="rgba(140,50,250,0.45)" stroke="rgba(70,30,120,0.75)" stroke-width="0.8"/>
<circle cx="400.90" cy="161.35" r="3.45" fill="rgba(140,50,250,0.45)" stroke="rgba(70,30,120,0.75)" stroke-width="0.8"/>
<circle cx="400.90" cy="154.46" r="3.45" fill="rgba(140,50,250,0.45)" stroke="rgba(70,30,120,0.75)" stroke-width="0.8"/>
<circle cx="400.90" cy="157.90" r="3.45" fill="rgba(140,50,250,0.45)" stroke="rgba(70,30,120,0.75)" stroke-width="0.8"/>
<circle cx="400.90" cy="164.79" r="3.45" fill="rgba(140,50,250,0.45)" stroke="rgba(70,30,120,0.75)" stroke-width="0.8"/>
<circle cx="400.90" cy="168.24" r="3.45" fill="rgba(140,50,250,0.45)" stroke="rgba(70,30,120,0.75)" stroke-width="0.8"/>
<circle cx="400.90" cy="164.79" r="3.45" fill="rgba(140,50,250,0.45)" stroke="rgba(70,30,120,0.75)" stroke-width="0.8"/>
<circle cx="400.90" cy="168.24" r="3.45" fill="rgba(140,50,250,0.45)" stroke="rgba(70,30,120,0.75)" stroke-width="0.8"/>
<circle cx="400.90" cy="171.69" r="3.45" fill="rgba(140,50,250,0.45)" stroke="rgba(70,30,120,0.75)" stroke-width="0.8"/>
<circle cx="400.90" cy="175.13" r="3.45" fill="rgba(140,50,250,0.45)" stroke="rgba(70,30,120,0.75)" stroke-width="0.8"/>
<circle cx="400.90" cy="178.58" r="3.45" fill="rgba(140,50,250,0.45)" stroke="rgba(70,30,120,0.75)" stroke-width="0.8"/>
<circle cx="400.90" cy="182.02" r="3.45" fill="rgba(140,50,250,0.45)" stroke="rgba(70,30,120,0.75)" stroke-width="0.8"/>
<circle cx="400.90" cy="113.10" r="3.45" fill="rgba(140,50,250,0.45)" stroke="rgba(70,30,120,0.75)" stroke-width="0.8"/>
<circle cx="400.90" cy="116.55" r="3.45" fill="rgba(140,50,250,0.45)" stroke="rgba(70,30,120,0.75)" stroke-width="0.8"/>
<circle cx="400.90" cy="99.32" r="3.45" fill="rgba(140,50,250,0.45)" stroke="rgba(70,30,120,0.75)" stroke-width="0.8"/>
<circle cx="400.90" cy="113.10" r="3.45" fill="rgba(140,50,250,0.45)" stroke="rgba(70,30,120,0.75)" stroke-width="0.8"/>
<circle cx="400.90" cy="120.00" r="3.45" fill="rgba(140,50,250,0.45)" stroke="rgba(70,30,120,0.75)" stroke-width="0.8"/>
<circle cx="400.90" cy="126.89" r="3.45" fill="rgba(140,50,250,0.45)" stroke="rgba(70,30,120,0.75)" stroke-width="0.8"/>
<circle cx="400.90" cy="126.89" r="3.45" fill="rgba(140,50,250,0.45)" stroke="rgba(70,30,120,0.75)" stroke-width="0.8"/>
<circle cx="400.90" cy="130.33" r="3.45" fill="rgba(140,50,250,0.45)" stroke="rgba(70,30,120,0.75)" stroke-width="0.8"/>
<circle cx="400.90" cy="133.78" r="3.45" fill="rgba(140,50,250,0.45)" stroke="rgba(70,30,120,0.75)" stroke-width="0.8"/>
<circle cx="400.90" cy="133.78" r="3.45" fill="rgba(140,50,250,0.45)" stroke="rgba(70,30,120,0.75)" stroke-width="0.8"/>
<circle cx="400.90" cy="64.86" r="3.45" fill="rgba(140,50,250,0.45)" stroke="rgba(70,30,120,0.75)" stroke-width="0.8"/>
<circle cx="400.90" cy="85.54" r="3.45" fill="rgba(140,50,250,0.45)" stroke="rgba(70,30,120,0.75)" stroke-width="0.8"/>
<circle cx="400.90" cy="82.09" r="3.45" fill="rgba(140,50,250,0.45)" stroke="rgba(70,30,120,0.75)" stroke-width="0.8"/>
<circle cx="400.90" cy="78.64" r="3.45" fill="rgba(140,50,250,0.45)" stroke="rgba(70,30,120,0.75)" stroke-width="0.8"/>
<circle cx="400.90" cy="82.09" r="3.45" fill="rgba(140,50,250,0.45)" stroke="rgba(70,30,120,0.75)" stroke-width="0.8"/>
<circle cx="400.90" cy="82.09" r="3.45" fill="rgba(140,50,250,0.45)" stroke="rgba(70,30,120,0.75)" stroke-width="0.8"/>
<circle cx="400.90" cy="82.09" r="3.45" fill="rgba(140,50,250,0.45)" stroke="rgba(70,30,120,0.75)" stroke-width="0.8"/>
<circle cx="400.90" cy="57.97" r="3.45" fill="rgba(140,50,250,0.45)" stroke="rgba(70,30,120,0.75)" stroke-width="0.8"/>
<circle cx="400.90" cy="64.86" r="3.45" fill="rgba(140,50,250,0.45)" stroke="rgba(70,30,120,0.75)" stroke-width="0.8"/>
<circle cx="400.90" cy="61.41" r="3.45" fill="rgba(140,50,250,0.45)" stroke="rgba(70,30,120,0.75)" stroke-width="0.8"/>
<circle cx="400.90" cy="99.32" r="3.45" fill="rgba(140,50,250,0.45)" stroke="rgba(70,30,120,0.75)" stroke-width="0.8"/>
<circle cx="400.90" cy="113.10" r="3.45" fill="rgba(140,50,250,0.45)" stroke="rgba(70,30,120,0.75)" stroke-width="0.8"/>
<circle cx="400.90" cy="123.44" r="3.45" fill="rgba(140,50,250,0.45)" stroke="rgba(70,30,120,0.75)" stroke-width="0.8"/>
<line x1="281.45" y1="29.40" x2="281.45" y2="203.70" stroke="#111" stroke-width="2" />
<line x1="274.05" y1="202.70" x2="448.30" y2="202.70" stroke="#111" stroke-width="2" />
<line x1="274.05" y1="202.70" x2="281.45" y2="202.70" stroke="#111" stroke-width="2" />
<text x="270.70" y="207.20" font-size="12.8" font-weight="bold" text-anchor="end" fill="#111" stroke="#111" stroke-width="0.4" textLength="6.80" lengthAdjust="spacingAndGlyphs" >0</text>
<line x1="274.05" y1="168.24" x2="281.45" y2="168.24" stroke="#111" stroke-width="2" />
<text x="270.70" y="172.74" font-size="12.8" font-weight="bold" text-anchor="end" fill="#111" stroke="#111" stroke-width="0.4" textLength="13.60" lengthAdjust="spacingAndGlyphs" >10</text>
<line x1="274.05" y1="133.78" x2="281.45" y2="133.78" stroke="#111" stroke-width="2" />
<text x="270.70" y="138.28" font-size="12.8" font-weight="bold" text-anchor="end" fill="#111" stroke="#111" stroke-width="0.4" textLength="13.60" lengthAdjust="spacingAndGlyphs" >20</text>
<line x1="274.05" y1="99.32" x2="281.45" y2="99.32" stroke="#111" stroke-width="2" />
<text x="270.70" y="103.82" font-size="12.8" font-weight="bold" text-anchor="end" fill="#111" stroke="#111" stroke-width="0.4" textLength="13.60" lengthAdjust="spacingAndGlyphs" >30</text>
<line x1="274.05" y1="64.86" x2="281.45" y2="64.86" stroke="#111" stroke-width="2" />
<text x="270.70" y="69.36" font-size="12.8" font-weight="bold" text-anchor="end" fill="#111" stroke="#111" stroke-width="0.4" textLength="13.60" lengthAdjust="spacingAndGlyphs" >40</text>
<line x1="274.05" y1="30.40" x2="281.45" y2="30.40" stroke="#111" stroke-width="2" />
<text x="270.70" y="34.90" font-size="12.8" font-weight="bold" text-anchor="end" fill="#111" stroke="#111" stroke-width="0.4" textLength="13.60" lengthAdjust="spacingAndGlyphs" >50</text>
<line x1="329.20" y1="202.70" x2="329.20" y2="209.90" stroke="#111" stroke-width="2" />
<line x1="400.90" y1="202.70" x2="400.90" y2="209.90" stroke="#111" stroke-width="2" />
<text x="327.40" y="225.50" font-size="13.9" font-weight="bold" text-anchor="middle" fill="#111" stroke="#111" stroke-width="0.4" textLength="27.40" lengthAdjust="spacingAndGlyphs" >EUS</text>
<text x="399.00" y="225.50" font-size="13.9" font-weight="bold" text-anchor="middle" fill="#111" stroke="#111" stroke-width="0.4" textLength="34.80" lengthAdjust="spacingAndGlyphs" >TAUS</text>
<path d="M329.20,57.30 V39.60 H400.90 V50.50" fill="none" stroke="#3a3a3a" stroke-width="1.3"/>
<text x="365.20" y="30.00" font-size="15.5" font-weight="normal" text-anchor="middle" fill="#111" stroke="#111" stroke-width="0.3" textLength="14.80" lengthAdjust="spacingAndGlyphs" >ns</text>
<text x="247.50" y="116.55" font-size="14.3" font-weight="bold" text-anchor="middle" fill="#111" stroke="#111" stroke-width="0.4" textLength="99.80" lengthAdjust="spacingAndGlyphs" transform="rotate(-90 247.50 116.55)" >diameter (mm)</text>
<text x="462.40" y="15.10" font-size="16.8" font-weight="bold" text-anchor="start" fill="#111" stroke="#111" stroke-width="0.4" >C</text>
<text x="593.20" y="14.10" font-size="14" font-weight="bold" text-anchor="middle" fill="#111" stroke="#111" stroke-width="0.4" textLength="143.40" lengthAdjust="spacingAndGlyphs" >EUS diameter &lt; 1 cm</text>
<line x1="556.70" y1="183.83" x2="629.70" y2="154.29" stroke="#1c1c1c" stroke-width="0.62" />
<line x1="556.70" y1="178.91" x2="629.70" y2="169.06" stroke="#1c1c1c" stroke-width="0.62" />
<line x1="556.70" y1="178.91" x2="629.70" y2="154.29" stroke="#1c1c1c" stroke-width="0.62" />
<line x1="556.70" y1="178.91" x2="629.70" y2="144.45" stroke="#1c1c1c" stroke-width="0.62" />
<line x1="556.70" y1="173.99" x2="629.70" y2="173.99" stroke="#1c1c1c" stroke-width="0.62" />
<line x1="556.70" y1="173.99" x2="629.70" y2="169.06" stroke="#1c1c1c" stroke-width="0.62" />
<line x1="556.70" y1="173.99" x2="629.70" y2="164.14" stroke="#1c1c1c" stroke-width="0.62" />
<line x1="556.70" y1="173.99" x2="629.70" y2="149.37" stroke="#1c1c1c" stroke-width="0.62" />
<line x1="556.70" y1="169.06" x2="629.70" y2="164.14" stroke="#1c1c1c" stroke-width="0.62" />
<line x1="556.70" y1="169.06" x2="629.70" y2="159.22" stroke="#1c1c1c" stroke-width="0.62" />
<line x1="556.70" y1="169.06" x2="629.70" y2="65.68" stroke="#1c1c1c" stroke-width="0.62" />
<line x1="556.70" y1="164.14" x2="629.70" y2="164.14" stroke="#1c1c1c" stroke-width="0.62" />
<line x1="556.70" y1="164.14" x2="629.70" y2="154.29" stroke="#1c1c1c" stroke-width="0.62" />
<line x1="556.70" y1="164.14" x2="629.70" y2="144.45" stroke="#1c1c1c" stroke-width="0.62" />
<line x1="556.70" y1="164.14" x2="629.70" y2="109.99" stroke="#1c1c1c" stroke-width="0.62" />
<line x1="556.70" y1="159.22" x2="629.70" y2="169.06" stroke="#1c1c1c" stroke-width="0.62" />
<line x1="556.70" y1="159.22" x2="629.70" y2="164.14" stroke="#1c1c1c" stroke-width="0.62" />
<line x1="556.70" y1="159.22" x2="629.70" y2="144.45" stroke="#1c1c1c" stroke-width="0.62" />
<line x1="556.70" y1="154.29" x2="629.70" y2="164.14" stroke="#1c1c1c" stroke-width="0.62" />
<line x1="556.70" y1="154.29" x2="629.70" y2="154.29" stroke="#1c1c1c" stroke-width="0.62" />
<circle cx="556.70" cy="183.83" r="2.75" fill="rgba(30,144,240,0.62)" stroke="rgba(20,60,120,0.75)" stroke-width="0.7"/>
<circle cx="556.70" cy="178.91" r="2.75" fill="rgba(30,144,240,0.62)" stroke="rgba(20,60,120,0.75)" stroke-width="0.7"/>
<circle cx="556.70" cy="178.91" r="2.75" fill="rgba(30,144,240,0.62)" stroke="rgba(20,60,120,0.75)" stroke-width="0.7"/>
<circle cx="556.70" cy="178.91" r="2.75" fill="rgba(30,144,240,0.62)" stroke="rgba(20,60,120,0.75)" stroke-width="0.7"/>
<circle cx="556.70" cy="173.99" r="2.75" fill="rgba(30,144,240,0.62)" stroke="rgba(20,60,120,0.75)" stroke-width="0.7"/>
<circle cx="556.70" cy="173.99" r="2.75" fill="rgba(30,144,240,0.62)" stroke="rgba(20,60,120,0.75)" stroke-width="0.7"/>
<circle cx="556.70" cy="173.99" r="2.75" fill="rgba(30,144,240,0.62)" stroke="rgba(20,60,120,0.75)" stroke-width="0.7"/>
<circle cx="556.70" cy="173.99" r="2.75" fill="rgba(30,144,240,0.62)" stroke="rgba(20,60,120,0.75)" stroke-width="0.7"/>
<circle cx="556.70" cy="173.99" r="2.75" fill="rgba(30,144,240,0.62)" stroke="rgba(20,60,120,0.75)" stroke-width="0.7"/>
<circle cx="556.70" cy="173.99" r="2.75" fill="rgba(30,144,240,0.62)" stroke="rgba(20,60,120,0.75)" stroke-width="0.7"/>
<circle cx="556.70" cy="169.06" r="2.75" fill="rgba(30,144,240,0.62)" stroke="rgba(20,60,120,0.75)" stroke-width="0.7"/>
<circle cx="556.70" cy="169.06" r="2.75" fill="rgba(30,144,240,0.62)" stroke="rgba(20,60,120,0.75)" stroke-width="0.7"/>
<circle cx="556.70" cy="169.06" r="2.75" fill="rgba(30,144,240,0.62)" stroke="rgba(20,60,120,0.75)" stroke-width="0.7"/>
<circle cx="556.70" cy="164.14" r="2.75" fill="rgba(30,144,240,0.62)" stroke="rgba(20,60,120,0.75)" stroke-width="0.7"/>
<circle cx="556.70" cy="164.14" r="2.75" fill="rgba(30,144,240,0.62)" stroke="rgba(20,60,120,0.75)" stroke-width="0.7"/>
<circle cx="556.70" cy="164.14" r="2.75" fill="rgba(30,144,240,0.62)" stroke="rgba(20,60,120,0.75)" stroke-width="0.7"/>
<circle cx="556.70" cy="164.14" r="2.75" fill="rgba(30,144,240,0.62)" stroke="rgba(20,60,120,0.75)" stroke-width="0.7"/>
<circle cx="556.70" cy="164.14" r="2.75" fill="rgba(30,144,240,0.62)" stroke="rgba(20,60,120,0.75)" stroke-width="0.7"/>
<circle cx="556.70" cy="164.14" r="2.75" fill="rgba(30,144,240,0.62)" stroke="rgba(20,60,120,0.75)" stroke-width="0.7"/>
<circle cx="556.70" cy="159.22" r="2.75" fill="rgba(30,144,240,0.62)" stroke="rgba(20,60,120,0.75)" stroke-width="0.7"/>
<circle cx="556.70" cy="159.22" r="2.75" fill="rgba(30,144,240,0.62)" stroke="rgba(20,60,120,0.75)" stroke-width="0.7"/>
<circle cx="556.70" cy="159.22" r="2.75" fill="rgba(30,144,240,0.62)" stroke="rgba(20,60,120,0.75)" stroke-width="0.7"/>
<circle cx="556.70" cy="154.29" r="2.75" fill="rgba(30,144,240,0.62)" stroke="rgba(20,60,120,0.75)" stroke-width="0.7"/>
<circle cx="556.70" cy="154.29" r="2.75" fill="rgba(30,144,240,0.62)" stroke="rgba(20,60,120,0.75)" stroke-width="0.7"/>
<circle cx="629.70" cy="154.29" r="3.45" fill="rgba(140,50,250,0.45)" stroke="rgba(70,30,120,0.75)" stroke-width="0.8"/>
<circle cx="629.70" cy="144.45" r="3.45" fill="rgba(140,50,250,0.45)" stroke="rgba(70,30,120,0.75)" stroke-width="0.8"/>
<circle cx="629.70" cy="154.29" r="3.45" fill="rgba(140,50,250,0.45)" stroke="rgba(70,30,120,0.75)" stroke-width="0.8"/>
<circle cx="629.70" cy="169.06" r="3.45" fill="rgba(140,50,250,0.45)" stroke="rgba(70,30,120,0.75)" stroke-width="0.8"/>
<circle cx="629.70" cy="149.37" r="3.45" fill="rgba(140,50,250,0.45)" stroke="rgba(70,30,120,0.75)" stroke-width="0.8"/>
<circle cx="629.70" cy="164.14" r="3.45" fill="rgba(140,50,250,0.45)" stroke="rgba(70,30,120,0.75)" stroke-width="0.8"/>
<circle cx="629.70" cy="164.14" r="3.45" fill="rgba(140,50,250,0.45)" stroke="rgba(70,30,120,0.75)" stroke-width="0.8"/>
<circle cx="629.70" cy="169.06" r="3.45" fill="rgba(140,50,250,0.45)" stroke="rgba(70,30,120,0.75)" stroke-width="0.8"/>
<circle cx="629.70" cy="173.99" r="3.45" fill="rgba(140,50,250,0.45)" stroke="rgba(70,30,120,0.75)" stroke-width="0.8"/>
<circle cx="629.70" cy="173.99" r="3.45" fill="rgba(140,50,250,0.45)" stroke="rgba(70,30,120,0.75)" stroke-width="0.8"/>
<circle cx="629.70" cy="65.68" r="3.45" fill="rgba(140,50,250,0.45)" stroke="rgba(70,30,120,0.75)" stroke-width="0.8"/>
<circle cx="629.70" cy="159.22" r="3.45" fill="rgba(140,50,250,0.45)" stroke="rgba(70,30,120,0.75)" stroke-width="0.8"/>
<circle cx="629.70" cy="164.14" r="3.45" fill="rgba(140,50,250,0.45)" stroke="rgba(70,30,120,0.75)" stroke-width="0.8"/>
<circle cx="629.70" cy="109.99" r="3.45" fill="rgba(140,50,250,0.45)" stroke="rgba(70,30,120,0.75)" stroke-width="0.8"/>
<circle cx="629.70" cy="109.99" r="3.45" fill="rgba(140,50,250,0.45)" stroke="rgba(70,30,120,0.75)" stroke-width="0.8"/>
<circle cx="629.70" cy="144.45" r="3.45" fill="rgba(140,50,250,0.45)" stroke="rgba(70,30,120,0.75)" stroke-width="0.8"/>
<circle cx="629.70" cy="154.29" r="3.45" fill="rgba(140,50,250,0.45)" stroke="rgba(70,30,120,0.75)" stroke-width="0.8"/>
<circle cx="629.70" cy="164.14" r="3.45" fill="rgba(140,50,250,0.45)" stroke="rgba(70,30,120,0.75)" stroke-width="0.8"/>
<circle cx="629.70" cy="164.14" r="3.45" fill="rgba(140,50,250,0.45)" stroke="rgba(70,30,120,0.75)" stroke-width="0.8"/>
<circle cx="629.70" cy="144.45" r="3.45" fill="rgba(140,50,250,0.45)" stroke="rgba(70,30,120,0.75)" stroke-width="0.8"/>
<circle cx="629.70" cy="164.14" r="3.45" fill="rgba(140,50,250,0.45)" stroke="rgba(70,30,120,0.75)" stroke-width="0.8"/>
<circle cx="629.70" cy="169.06" r="3.45" fill="rgba(140,50,250,0.45)" stroke="rgba(70,30,120,0.75)" stroke-width="0.8"/>
<circle cx="629.70" cy="154.29" r="3.45" fill="rgba(140,50,250,0.45)" stroke="rgba(70,30,120,0.75)" stroke-width="0.8"/>
<circle cx="629.70" cy="164.14" r="3.45" fill="rgba(140,50,250,0.45)" stroke="rgba(70,30,120,0.75)" stroke-width="0.8"/>
<line x1="508.20" y1="25.30" x2="508.20" y2="199.60" stroke="#111" stroke-width="2" />
<line x1="500.80" y1="198.60" x2="678.70" y2="198.60" stroke="#111" stroke-width="2" />
<line x1="500.80" y1="198.60" x2="508.20" y2="198.60" stroke="#111" stroke-width="2" />
<text x="497.10" y="203.10" font-size="12.8" font-weight="bold" text-anchor="end" fill="#111" stroke="#111" stroke-width="0.4" textLength="7.15" lengthAdjust="spacingAndGlyphs" >0</text>
<line x1="500.80" y1="173.99" x2="508.20" y2="173.99" stroke="#111" stroke-width="2" />
<text x="497.10" y="178.49" font-size="12.8" font-weight="bold" text-anchor="end" fill="#111" stroke="#111" stroke-width="0.4" textLength="7.15" lengthAdjust="spacingAndGlyphs" >5</text>
<line x1="500.80" y1="149.37" x2="508.20" y2="149.37" stroke="#111" stroke-width="2" />
<text x="497.10" y="153.87" font-size="12.8" font-weight="bold" text-anchor="end" fill="#111" stroke="#111" stroke-width="0.4" textLength="14.30" lengthAdjust="spacingAndGlyphs" >10</text>
<line x1="500.80" y1="124.76" x2="508.20" y2="124.76" stroke="#111" stroke-width="2" />
<text x="497.10" y="129.26" font-size="12.8" font-weight="bold" text-anchor="end" fill="#111" stroke="#111" stroke-width="0.4" textLength="14.30" lengthAdjust="spacingAndGlyphs" >15</text>
<line x1="500.80" y1="100.14" x2="508.20" y2="100.14" stroke="#111" stroke-width="2" />
<text x="497.10" y="104.64" font-size="12.8" font-weight="bold" text-anchor="end" fill="#111" stroke="#111" stroke-width="0.4" textLength="14.30" lengthAdjust="spacingAndGlyphs" >20</text>
<line x1="500.80" y1="75.53" x2="508.20" y2="75.53" stroke="#111" stroke-width="2" />
<text x="497.10" y="80.03" font-size="12.8" font-weight="bold" text-anchor="end" fill="#111" stroke="#111" stroke-width="0.4" textLength="14.30" lengthAdjust="spacingAndGlyphs" >25</text>
<line x1="500.80" y1="50.91" x2="508.20" y2="50.91" stroke="#111" stroke-width="2" />
<text x="497.10" y="55.41" font-size="12.8" font-weight="bold" text-anchor="end" fill="#111" stroke="#111" stroke-width="0.4" textLength="14.30" lengthAdjust="spacingAndGlyphs" >30</text>
<line x1="500.80" y1="26.30" x2="508.20" y2="26.30" stroke="#111" stroke-width="2" />
<text x="497.10" y="30.80" font-size="12.8" font-weight="bold" text-anchor="end" fill="#111" stroke="#111" stroke-width="0.4" textLength="14.30" lengthAdjust="spacingAndGlyphs" >35</text>
<line x1="556.70" y1="198.60" x2="556.70" y2="205.80" stroke="#111" stroke-width="2" />
<line x1="629.70" y1="198.60" x2="629.70" y2="205.80" stroke="#111" stroke-width="2" />
<text x="554.90" y="221.90" font-size="13.9" font-weight="bold" text-anchor="middle" fill="#111" stroke="#111" stroke-width="0.4" textLength="26.80" lengthAdjust="spacingAndGlyphs" >EUS</text>
<text x="627.80" y="221.90" font-size="13.9" font-weight="bold" text-anchor="middle" fill="#111" stroke="#111" stroke-width="0.4" textLength="35.00" lengthAdjust="spacingAndGlyphs" >TAUS</text>
<path d="M556.70,142.60 V44.20 H629.70 V54.40" fill="none" stroke="#3a3a3a" stroke-width="1.3"/>
<text x="593.50" y="41.50" font-size="21" font-weight="bold" text-anchor="middle" fill="#111" stroke="#111" stroke-width="0.4" textLength="26.60" lengthAdjust="spacingAndGlyphs" >***</text>
<text x="474.30" y="112.45" font-size="14.3" font-weight="bold" text-anchor="middle" fill="#111" stroke="#111" stroke-width="0.4" textLength="101.30" lengthAdjust="spacingAndGlyphs" transform="rotate(-90 474.30 112.45)" >diameter (mm)</text>
<text x="5.50" y="258.20" font-size="16.5" font-weight="bold" text-anchor="start" fill="#111" stroke="#111" stroke-width="0.4" >D</text>
<text x="132.20" y="256.50" font-size="13" font-weight="bold" text-anchor="middle" fill="#111" stroke="#111" stroke-width="0.4" textLength="128.70" lengthAdjust="spacingAndGlyphs" >total study collective</text>
<circle cx="59.07" cy="391.65" r="3.9" fill="rgba(247,160,60,0.55)" stroke="rgba(95,65,35,0.7)" stroke-width="0.85"/>
<circle cx="62.39" cy="385.91" r="3.9" fill="rgba(247,160,60,0.55)" stroke="rgba(95,65,35,0.7)" stroke-width="0.85"/>
<circle cx="62.39" cy="391.65" r="3.9" fill="rgba(247,160,60,0.55)" stroke="rgba(95,65,35,0.7)" stroke-width="0.85"/>
<circle cx="62.39" cy="400.27" r="3.9" fill="rgba(247,160,60,0.55)" stroke="rgba(95,65,35,0.7)" stroke-width="0.85"/>
<circle cx="65.71" cy="388.78" r="3.9" fill="rgba(247,160,60,0.55)" stroke="rgba(95,65,35,0.7)" stroke-width="0.85"/>
<circle cx="65.71" cy="397.40" r="3.9" fill="rgba(247,160,60,0.55)" stroke="rgba(95,65,35,0.7)" stroke-width="0.85"/>
<circle cx="65.71" cy="397.40" r="3.9" fill="rgba(247,160,60,0.55)" stroke="rgba(95,65,35,0.7)" stroke-width="0.85"/>
<circle cx="65.71" cy="400.27" r="3.9" fill="rgba(247,160,60,0.55)" stroke="rgba(95,65,35,0.7)" stroke-width="0.85"/>
<circle cx="65.71" cy="403.14" r="3.9" fill="rgba(247,160,60,0.55)" stroke="rgba(95,65,35,0.7)" stroke-width="0.85"/>
<circle cx="65.71" cy="403.14" r="3.9" fill="rgba(247,160,60,0.55)" stroke="rgba(95,65,35,0.7)" stroke-width="0.85"/>
<circle cx="69.03" cy="339.96" r="3.9" fill="rgba(247,160,60,0.55)" stroke="rgba(95,65,35,0.7)" stroke-width="0.85"/>
<circle cx="69.03" cy="394.52" r="3.9" fill="rgba(247,160,60,0.55)" stroke="rgba(95,65,35,0.7)" stroke-width="0.85"/>
<circle cx="69.03" cy="397.40" r="3.9" fill="rgba(247,160,60,0.55)" stroke="rgba(95,65,35,0.7)" stroke-width="0.85"/>
<circle cx="72.35" cy="365.80" r="3.9" fill="rgba(247,160,60,0.55)" stroke="rgba(95,65,35,0.7)" stroke-width="0.85"/>
<circle cx="72.35" cy="365.80" r="3.9" fill="rgba(247,160,60,0.55)" stroke="rgba(95,65,35,0.7)" stroke-width="0.85"/>
<circle cx="72.35" cy="385.91" r="3.9" fill="rgba(247,160,60,0.55)" stroke="rgba(95,65,35,0.7)" stroke-width="0.85"/>
<circle cx="72.35" cy="391.65" r="3.9" fill="rgba(247,160,60,0.55)" stroke="rgba(95,65,35,0.7)" stroke-width="0.85"/>
<circle cx="72.35" cy="397.40" r="3.9" fill="rgba(247,160,60,0.55)" stroke="rgba(95,65,35,0.7)" stroke-width="0.85"/>
<circle cx="72.35" cy="397.40" r="3.9" fill="rgba(247,160,60,0.55)" stroke="rgba(95,65,35,0.7)" stroke-width="0.85"/>
<circle cx="75.68" cy="385.91" r="3.9" fill="rgba(247,160,60,0.55)" stroke="rgba(95,65,35,0.7)" stroke-width="0.85"/>
<circle cx="75.68" cy="397.40" r="3.9" fill="rgba(247,160,60,0.55)" stroke="rgba(95,65,35,0.7)" stroke-width="0.85"/>
<circle cx="75.68" cy="400.27" r="3.9" fill="rgba(247,160,60,0.55)" stroke="rgba(95,65,35,0.7)" stroke-width="0.85"/>
<circle cx="79.00" cy="391.65" r="3.9" fill="rgba(247,160,60,0.55)" stroke="rgba(95,65,35,0.7)" stroke-width="0.85"/>
<circle cx="79.00" cy="397.40" r="3.9" fill="rgba(247,160,60,0.55)" stroke="rgba(95,65,35,0.7)" stroke-width="0.85"/>
<circle cx="82.32" cy="357.19" r="3.9" fill="rgba(247,160,60,0.55)" stroke="rgba(95,65,35,0.7)" stroke-width="0.85"/>
<circle cx="82.32" cy="357.19" r="3.9" fill="rgba(247,160,60,0.55)" stroke="rgba(95,65,35,0.7)" stroke-width="0.85"/>
<circle cx="88.96" cy="362.93" r="3.9" fill="rgba(247,160,60,0.55)" stroke="rgba(95,65,35,0.7)" stroke-width="0.85"/>
<circle cx="95.61" cy="362.93" r="3.9" fill="rgba(247,160,60,0.55)" stroke="rgba(95,65,35,0.7)" stroke-width="0.85"/>
<circle cx="102.25" cy="365.80" r="3.9" fill="rgba(247,160,60,0.55)" stroke="rgba(95,65,35,0.7)" stroke-width="0.85"/>
<circle cx="105.57" cy="365.80" r="3.9" fill="rgba(247,160,60,0.55)" stroke="rgba(95,65,35,0.7)" stroke-width="0.85"/>
<circle cx="108.90" cy="365.80" r="3.9" fill="rgba(247,160,60,0.55)" stroke="rgba(95,65,35,0.7)" stroke-width="0.85"/>
<circle cx="88.96" cy="368.68" r="3.9" fill="rgba(247,160,60,0.55)" stroke="rgba(95,65,35,0.7)" stroke-width="0.85"/>
<circle cx="115.54" cy="371.55" r="3.9" fill="rgba(247,160,60,0.55)" stroke="rgba(95,65,35,0.7)" stroke-width="0.85"/>
<circle cx="82.32" cy="374.42" r="3.9" fill="rgba(247,160,60,0.55)" stroke="rgba(95,65,35,0.7)" stroke-width="0.85"/>
<circle cx="88.96" cy="374.42" r="3.9" fill="rgba(247,160,60,0.55)" stroke="rgba(95,65,35,0.7)" stroke-width="0.85"/>
<circle cx="98.93" cy="374.42" r="3.9" fill="rgba(247,160,60,0.55)" stroke="rgba(95,65,35,0.7)" stroke-width="0.85"/>
<circle cx="85.64" cy="380.16" r="3.9" fill="rgba(247,160,60,0.55)" stroke="rgba(95,65,35,0.7)" stroke-width="0.85"/>
<circle cx="88.96" cy="380.16" r="3.9" fill="rgba(247,160,60,0.55)" stroke="rgba(95,65,35,0.7)" stroke-width="0.85"/>
<circle cx="88.96" cy="383.04" r="3.9" fill="rgba(247,160,60,0.55)" stroke="rgba(95,65,35,0.7)" stroke-width="0.85"/>
<circle cx="92.29" cy="377.29" r="3.9" fill="rgba(247,160,60,0.55)" stroke="rgba(95,65,35,0.7)" stroke-width="0.85"/>
<circle cx="105.57" cy="380.16" r="3.9" fill="rgba(247,160,60,0.55)" stroke="rgba(95,65,35,0.7)" stroke-width="0.85"/>
<circle cx="82.32" cy="385.91" r="3.9" fill="rgba(247,160,60,0.55)" stroke="rgba(95,65,35,0.7)" stroke-width="0.85"/>
<circle cx="88.96" cy="388.78" r="3.9" fill="rgba(247,160,60,0.55)" stroke="rgba(95,65,35,0.7)" stroke-width="0.85"/>
<circle cx="98.93" cy="385.91" r="3.9" fill="rgba(247,160,60,0.55)" stroke="rgba(95,65,35,0.7)" stroke-width="0.85"/>
<circle cx="108.90" cy="388.78" r="3.9" fill="rgba(247,160,60,0.55)" stroke="rgba(95,65,35,0.7)" stroke-width="0.85"/>
<circle cx="112.22" cy="391.65" r="3.9" fill="rgba(247,160,60,0.55)" stroke="rgba(95,65,35,0.7)" stroke-width="0.85"/>
<circle cx="88.96" cy="394.52" r="3.9" fill="rgba(247,160,60,0.55)" stroke="rgba(95,65,35,0.7)" stroke-width="0.85"/>
<circle cx="82.32" cy="397.40" r="3.9" fill="rgba(247,160,60,0.55)" stroke="rgba(95,65,35,0.7)" stroke-width="0.85"/>
<circle cx="85.64" cy="400.27" r="3.9" fill="rgba(247,160,60,0.55)" stroke="rgba(95,65,35,0.7)" stroke-width="0.85"/>
<circle cx="88.96" cy="342.83" r="3.9" fill="rgba(247,160,60,0.55)" stroke="rgba(95,65,35,0.7)" stroke-width="0.85"/>
<circle cx="108.90" cy="345.70" r="3.9" fill="rgba(247,160,60,0.55)" stroke="rgba(95,65,35,0.7)" stroke-width="0.85"/>
<circle cx="115.54" cy="331.34" r="3.9" fill="rgba(247,160,60,0.55)" stroke="rgba(95,65,35,0.7)" stroke-width="0.85"/>
<circle cx="128.83" cy="342.83" r="3.9" fill="rgba(247,160,60,0.55)" stroke="rgba(95,65,35,0.7)" stroke-width="0.85"/>
<circle cx="125.51" cy="348.57" r="3.9" fill="rgba(247,160,60,0.55)" stroke="rgba(95,65,35,0.7)" stroke-width="0.85"/>
<circle cx="115.54" cy="354.32" r="3.9" fill="rgba(247,160,60,0.55)" stroke="rgba(95,65,35,0.7)" stroke-width="0.85"/>
<circle cx="118.86" cy="354.32" r="3.9" fill="rgba(247,160,60,0.55)" stroke="rgba(95,65,35,0.7)" stroke-width="0.85"/>
<circle cx="115.54" cy="357.19" r="3.9" fill="rgba(247,160,60,0.55)" stroke="rgba(95,65,35,0.7)" stroke-width="0.85"/>
<circle cx="115.54" cy="360.06" r="3.9" fill="rgba(247,160,60,0.55)" stroke="rgba(95,65,35,0.7)" stroke-width="0.85"/>
<circle cx="142.12" cy="360.06" r="3.9" fill="rgba(247,160,60,0.55)" stroke="rgba(95,65,35,0.7)" stroke-width="0.85"/>
<circle cx="138.79" cy="302.62" r="3.9" fill="rgba(247,160,60,0.55)" stroke="rgba(95,65,35,0.7)" stroke-width="0.85"/>
<circle cx="132.15" cy="319.85" r="3.9" fill="rgba(247,160,60,0.55)" stroke="rgba(95,65,35,0.7)" stroke-width="0.85"/>
<circle cx="138.79" cy="316.98" r="3.9" fill="rgba(247,160,60,0.55)" stroke="rgba(95,65,35,0.7)" stroke-width="0.85"/>
<circle cx="148.76" cy="314.11" r="3.9" fill="rgba(247,160,60,0.55)" stroke="rgba(95,65,35,0.7)" stroke-width="0.85"/>
<circle cx="152.08" cy="316.98" r="3.9" fill="rgba(247,160,60,0.55)" stroke="rgba(95,65,35,0.7)" stroke-width="0.85"/>
<circle cx="152.08" cy="316.98" r="3.9" fill="rgba(247,160,60,0.55)" stroke="rgba(95,65,35,0.7)" stroke-width="0.85"/>
<circle cx="165.37" cy="316.98" r="3.9" fill="rgba(247,160,60,0.55)" stroke="rgba(95,65,35,0.7)" stroke-width="0.85"/>
<circle cx="162.05" cy="296.88" r="3.9" fill="rgba(247,160,60,0.55)" stroke="rgba(95,65,35,0.7)" stroke-width="0.85"/>
<circle cx="165.37" cy="302.62" r="3.9" fill="rgba(247,160,60,0.55)" stroke="rgba(95,65,35,0.7)" stroke-width="0.85"/>
<circle cx="178.66" cy="299.75" r="3.9" fill="rgba(247,160,60,0.55)" stroke="rgba(95,65,35,0.7)" stroke-width="0.85"/>
<circle cx="181.98" cy="331.34" r="3.9" fill="rgba(247,160,60,0.55)" stroke="rgba(95,65,35,0.7)" stroke-width="0.85"/>
<circle cx="148.76" cy="342.83" r="3.9" fill="rgba(247,160,60,0.55)" stroke="rgba(95,65,35,0.7)" stroke-width="0.85"/>
<circle cx="148.76" cy="351.44" r="3.9" fill="rgba(247,160,60,0.55)" stroke="rgba(95,65,35,0.7)" stroke-width="0.85"/>
<line x1="49.10" y1="417.50" x2="215.20" y2="273.90" stroke="#222" stroke-width="2.1" stroke-dasharray="5.8 3.107"/>
<line x1="49.10" y1="272.90" x2="49.10" y2="424.50" stroke="#111" stroke-width="2" />
<line x1="42.10" y1="417.50" x2="216.20" y2="417.50" stroke="#111" stroke-width="2" />
<line x1="42.10" y1="417.50" x2="49.10" y2="417.50" stroke="#111" stroke-width="2" />
<text x="38.90" y="422.00" font-size="12.8" font-weight="bold" text-anchor="end" fill="#111" stroke="#111" stroke-width="0.4" textLength="7.00" lengthAdjust="spacingAndGlyphs" >0</text>
<line x1="42.10" y1="388.78" x2="49.10" y2="388.78" stroke="#111" stroke-width="2" />
<text x="38.90" y="393.28" font-size="12.8" font-weight="bold" text-anchor="end" fill="#111" stroke="#111" stroke-width="0.4" textLength="14.00" lengthAdjust="spacingAndGlyphs" >10</text>
<line x1="42.10" y1="360.06" x2="49.10" y2="360.06" stroke="#111" stroke-width="2" />
<text x="38.90" y="364.56" font-size="12.8" font-weight="bold" text-anchor="end" fill="#111" stroke="#111" stroke-width="0.4" textLength="14.00" lengthAdjust="spacingAndGlyphs" >20</text>
<line x1="42.10" y1="331.34" x2="49.10" y2="331.34" stroke="#111" stroke-width="2" />
<text x="38.90" y="335.84" font-size="12.8" font-weight="bold" text-anchor="end" fill="#111" stroke="#111" stroke-width="0.4" textLength="14.00" lengthAdjust="spacingAndGlyphs" >30</text>
<line x1="42.10" y1="302.62" x2="49.10" y2="302.62" stroke="#111" stroke-width="2" />
<text x="38.90" y="307.12" font-size="12.8" font-weight="bold" text-anchor="end" fill="#111" stroke="#111" stroke-width="0.4" textLength="14.00" lengthAdjust="spacingAndGlyphs" >40</text>
<line x1="42.10" y1="273.90" x2="49.10" y2="273.90" stroke="#111" stroke-width="2" />
<text x="38.90" y="278.40" font-size="12.8" font-weight="bold" text-anchor="end" fill="#111" stroke="#111" stroke-width="0.4" textLength="14.00" lengthAdjust="spacingAndGlyphs" >50</text>
<line x1="49.10" y1="417.50" x2="49.10" y2="424.50" stroke="#111" stroke-width="2" />
<text x="49.10" y="439.30" font-size="12.8" font-weight="bold" text-anchor="middle" fill="#111" stroke="#111" stroke-width="0.4" textLength="6.70" lengthAdjust="spacingAndGlyphs" >0</text>
<line x1="82.32" y1="417.50" x2="82.32" y2="424.50" stroke="#111" stroke-width="2" />
<text x="82.32" y="439.30" font-size="12.8" font-weight="bold" text-anchor="middle" fill="#111" stroke="#111" stroke-width="0.4" textLength="13.40" lengthAdjust="spacingAndGlyphs" >10</text>
<line x1="115.54" y1="417.50" x2="115.54" y2="424.50" stroke="#111" stroke-width="2" />
<text x="115.54" y="439.30" font-size="12.8" font-weight="bold" text-anchor="middle" fill="#111" stroke="#111" stroke-width="0.4" textLength="13.40" lengthAdjust="spacingAndGlyphs" >20</text>
<line x1="148.76" y1="417.50" x2="148.76" y2="424.50" stroke="#111" stroke-width="2" />
<text x="148.76" y="439.30" font-size="12.8" font-weight="bold" text-anchor="middle" fill="#111" stroke="#111" stroke-width="0.4" textLength="13.40" lengthAdjust="spacingAndGlyphs" >30</text>
<line x1="181.98" y1="417.50" x2="181.98" y2="424.50" stroke="#111" stroke-width="2" />
<text x="181.98" y="439.30" font-size="12.8" font-weight="bold" text-anchor="middle" fill="#111" stroke="#111" stroke-width="0.4" textLength="13.40" lengthAdjust="spacingAndGlyphs" >40</text>
<line x1="215.20" y1="417.50" x2="215.20" y2="424.50" stroke="#111" stroke-width="2" />
<text x="215.20" y="439.30" font-size="12.8" font-weight="bold" text-anchor="middle" fill="#111" stroke="#111" stroke-width="0.4" textLength="13.40" lengthAdjust="spacingAndGlyphs" >50</text>
<text x="132.15" y="458.10" font-size="13.8" font-weight="bold" text-anchor="middle" fill="#111" stroke="#111" stroke-width="0.4" textLength="62.80" lengthAdjust="spacingAndGlyphs" >EUS (mm)</text>
<text x="18.60" y="345.70" font-size="13.3" font-weight="bold" text-anchor="middle" fill="#111" stroke="#111" stroke-width="0.4" textLength="69.00" lengthAdjust="spacingAndGlyphs" transform="rotate(-90 18.60 345.70)" >TAUS (mm)</text>
<text x="153.80" y="393.90" font-size="13.3" font-weight="normal" text-anchor="start" fill="#111" stroke="#111" stroke-width="0.3" textLength="59.20" lengthAdjust="spacingAndGlyphs" >r = 0.7808</text>
<text x="153.80" y="410.30" font-size="13.3" font-weight="normal" text-anchor="start" fill="#111" stroke="#111" stroke-width="0.3" textLength="60.20" lengthAdjust="spacingAndGlyphs" >p &lt; 0.0001</text>
<text x="234.00" y="259.20" font-size="16.5" font-weight="bold" text-anchor="start" fill="#111" stroke="#111" stroke-width="0.4" >E</text>
<text x="359.60" y="257.80" font-size="13.3" font-weight="bold" text-anchor="middle" fill="#111" stroke="#111" stroke-width="0.4" textLength="131.60" lengthAdjust="spacingAndGlyphs" >EUS diameter ≥ 1 cm</text>
<circle cx="310.10" cy="355.39" r="3.9" fill="rgba(247,160,60,0.55)" stroke="rgba(95,65,35,0.7)" stroke-width="0.85"/>
<circle cx="310.10" cy="355.39" r="3.9" fill="rgba(247,160,60,0.55)" stroke="rgba(95,65,35,0.7)" stroke-width="0.85"/>
<circle cx="316.78" cy="361.21" r="3.9" fill="rgba(247,160,60,0.55)" stroke="rgba(95,65,35,0.7)" stroke-width="0.85"/>
<circle cx="323.46" cy="361.21" r="3.9" fill="rgba(247,160,60,0.55)" stroke="rgba(95,65,35,0.7)" stroke-width="0.85"/>
<circle cx="330.14" cy="364.12" r="3.9" fill="rgba(247,160,60,0.55)" stroke="rgba(95,65,35,0.7)" stroke-width="0.85"/>
<circle cx="333.48" cy="364.12" r="3.9" fill="rgba(247,160,60,0.55)" stroke="rgba(95,65,35,0.7)" stroke-width="0.85"/>
<circle cx="336.82" cy="364.12" r="3.9" fill="rgba(247,160,60,0.55)" stroke="rgba(95,65,35,0.7)" stroke-width="0.85"/>
<circle cx="316.78" cy="367.03" r="3.9" fill="rgba(247,160,60,0.55)" stroke="rgba(95,65,35,0.7)" stroke-width="0.85"/>
<circle cx="343.50" cy="369.94" r="3.9" fill="rgba(247,160,60,0.55)" stroke="rgba(95,65,35,0.7)" stroke-width="0.85"/>
<circle cx="310.10" cy="372.85" r="3.9" fill="rgba(247,160,60,0.55)" stroke="rgba(95,65,35,0.7)" stroke-width="0.85"/>
<circle cx="316.78" cy="372.85" r="3.9" fill="rgba(247,160,60,0.55)" stroke="rgba(95,65,35,0.7)" stroke-width="0.85"/>
<circle cx="326.80" cy="372.85" r="3.9" fill="rgba(247,160,60,0.55)" stroke="rgba(95,65,35,0.7)" stroke-width="0.85"/>
<circle cx="313.44" cy="378.67" r="3.9" fill="rgba(247,160,60,0.55)" stroke="rgba(95,65,35,0.7)" stroke-width="0.85"/>
<circle cx="316.78" cy="378.67" r="3.9" fill="rgba(247,160,60,0.55)" stroke="rgba(95,65,35,0.7)" stroke-width="0.85"/>
<circle cx="316.78" cy="381.58" r="3.9" fill="rgba(247,160,60,0.55)" stroke="rgba(95,65,35,0.7)" stroke-width="0.85"/>
<circle cx="320.12" cy="375.76" r="3.9" fill="rgba(247,160,60,0.55)" stroke="rgba(95,65,35,0.7)" stroke-width="0.85"/>
<circle cx="333.48" cy="378.67" r="3.9" fill="rgba(247,160,60,0.55)" stroke="rgba(95,65,35,0.7)" stroke-width="0.85"/>
<circle cx="310.10" cy="384.49" r="3.9" fill="rgba(247,160,60,0.55)" stroke="rgba(95,65,35,0.7)" stroke-width="0.85"/>
<circle cx="316.78" cy="387.40" r="3.9" fill="rgba(247,160,60,0.55)" stroke="rgba(95,65,35,0.7)" stroke-width="0.85"/>
<circle cx="326.80" cy="384.49" r="3.9" fill="rgba(247,160,60,0.55)" stroke="rgba(95,65,35,0.7)" stroke-width="0.85"/>
<circle cx="336.82" cy="387.40" r="3.9" fill="rgba(247,160,60,0.55)" stroke="rgba(95,65,35,0.7)" stroke-width="0.85"/>
<circle cx="340.16" cy="390.31" r="3.9" fill="rgba(247,160,60,0.55)" stroke="rgba(95,65,35,0.7)" stroke-width="0.85"/>
<circle cx="316.78" cy="393.22" r="3.9" fill="rgba(247,160,60,0.55)" stroke="rgba(95,65,35,0.7)" stroke-width="0.85"/>
<circle cx="310.10" cy="396.13" r="3.9" fill="rgba(247,160,60,0.55)" stroke="rgba(95,65,35,0.7)" stroke-width="0.85"/>
<circle cx="313.44" cy="399.04" r="3.9" fill="rgba(247,160,60,0.55)" stroke="rgba(95,65,35,0.7)" stroke-width="0.85"/>
<circle cx="316.78" cy="340.84" r="3.9" fill="rgba(247,160,60,0.55)" stroke="rgba(95,65,35,0.7)" stroke-width="0.85"/>
<circle cx="336.82" cy="343.75" r="3.9" fill="rgba(247,160,60,0.55)" stroke="rgba(95,65,35,0.7)" stroke-width="0.85"/>
<circle cx="343.50" cy="329.20" r="3.9" fill="rgba(247,160,60,0.55)" stroke="rgba(95,65,35,0.7)" stroke-width="0.85"/>
<circle cx="356.86" cy="340.84" r="3.9" fill="rgba(247,160,60,0.55)" stroke="rgba(95,65,35,0.7)" stroke-width="0.85"/>
<circle cx="353.52" cy="346.66" r="3.9" fill="rgba(247,160,60,0.55)" stroke="rgba(95,65,35,0.7)" stroke-width="0.85"/>
<circle cx="343.50" cy="352.48" r="3.9" fill="rgba(247,160,60,0.55)" stroke="rgba(95,65,35,0.7)" stroke-width="0.85"/>
<circle cx="346.84" cy="352.48" r="3.9" fill="rgba(247,160,60,0.55)" stroke="rgba(95,65,35,0.7)" stroke-width="0.85"/>
<circle cx="343.50" cy="355.39" r="3.9" fill="rgba(247,160,60,0.55)" stroke="rgba(95,65,35,0.7)" stroke-width="0.85"/>
<circle cx="343.50" cy="358.30" r="3.9" fill="rgba(247,160,60,0.55)" stroke="rgba(95,65,35,0.7)" stroke-width="0.85"/>
<circle cx="370.22" cy="358.30" r="3.9" fill="rgba(247,160,60,0.55)" stroke="rgba(95,65,35,0.7)" stroke-width="0.85"/>
<circle cx="366.88" cy="300.10" r="3.9" fill="rgba(247,160,60,0.55)" stroke="rgba(95,65,35,0.7)" stroke-width="0.85"/>
<circle cx="360.20" cy="317.56" r="3.9" fill="rgba(247,160,60,0.55)" stroke="rgba(95,65,35,0.7)" stroke-width="0.85"/>
<circle cx="366.88" cy="314.65" r="3.9" fill="rgba(247,160,60,0.55)" stroke="rgba(95,65,35,0.7)" stroke-width="0.85"/>
<circle cx="376.90" cy="311.74" r="3.9" fill="rgba(247,160,60,0.55)" stroke="rgba(95,65,35,0.7)" stroke-width="0.85"/>
<circle cx="380.24" cy="314.65" r="3.9" fill="rgba(247,160,60,0.55)" stroke="rgba(95,65,35,0.7)" stroke-width="0.85"/>
<circle cx="380.24" cy="314.65" r="3.9" fill="rgba(247,160,60,0.55)" stroke="rgba(95,65,35,0.7)" stroke-width="0.85"/>
<circle cx="393.60" cy="314.65" r="3.9" fill="rgba(247,160,60,0.55)" stroke="rgba(95,65,35,0.7)" stroke-width="0.85"/>
<circle cx="390.26" cy="294.28" r="3.9" fill="rgba(247,160,60,0.55)" stroke="rgba(95,65,35,0.7)" stroke-width="0.85"/>
<circle cx="393.60" cy="300.10" r="3.9" fill="rgba(247,160,60,0.55)" stroke="rgba(95,65,35,0.7)" stroke-width="0.85"/>
<circle cx="406.96" cy="297.19" r="3.9" fill="rgba(247,160,60,0.55)" stroke="rgba(95,65,35,0.7)" stroke-width="0.85"/>
<circle cx="410.30" cy="329.20" r="3.9" fill="rgba(247,160,60,0.55)" stroke="rgba(95,65,35,0.7)" stroke-width="0.85"/>
<circle cx="376.90" cy="340.84" r="3.9" fill="rgba(247,160,60,0.55)" stroke="rgba(95,65,35,0.7)" stroke-width="0.85"/>
<circle cx="376.90" cy="349.57" r="3.9" fill="rgba(247,160,60,0.55)" stroke="rgba(95,65,35,0.7)" stroke-width="0.85"/>
<line x1="276.70" y1="416.50" x2="443.70" y2="271.00" stroke="#222" stroke-width="2.1" stroke-dasharray="5.8 3.187"/>
<line x1="276.70" y1="270.00" x2="276.70" y2="423.50" stroke="#111" stroke-width="2" />
<line x1="269.70" y1="416.50" x2="444.70" y2="416.50" stroke="#111" stroke-width="2" />
<line x1="269.70" y1="416.50" x2="276.70" y2="416.50" stroke="#111" stroke-width="2" />
<text x="266.70" y="421.00" font-size="12.8" font-weight="bold" text-anchor="end" fill="#111" stroke="#111" stroke-width="0.4" textLength="7.00" lengthAdjust="spacingAndGlyphs" >0</text>
<line x1="269.70" y1="387.40" x2="276.70" y2="387.40" stroke="#111" stroke-width="2" />
<text x="266.70" y="391.90" font-size="12.8" font-weight="bold" text-anchor="end" fill="#111" stroke="#111" stroke-width="0.4" textLength="14.00" lengthAdjust="spacingAndGlyphs" >10</text>
<line x1="269.70" y1="358.30" x2="276.70" y2="358.30" stroke="#111" stroke-width="2" />
<text x="266.70" y="362.80" font-size="12.8" font-weight="bold" text-anchor="end" fill="#111" stroke="#111" stroke-width="0.4" textLength="14.00" lengthAdjust="spacingAndGlyphs" >20</text>
<line x1="269.70" y1="329.20" x2="276.70" y2="329.20" stroke="#111" stroke-width="2" />
<text x="266.70" y="333.70" font-size="12.8" font-weight="bold" text-anchor="end" fill="#111" stroke="#111" stroke-width="0.4" textLength="14.00" lengthAdjust="spacingAndGlyphs" >30</text>
<line x1="269.70" y1="300.10" x2="276.70" y2="300.10" stroke="#111" stroke-width="2" />
<text x="266.70" y="304.60" font-size="12.8" font-weight="bold" text-anchor="end" fill="#111" stroke="#111" stroke-width="0.4" textLength="14.00" lengthAdjust="spacingAndGlyphs" >40</text>
<line x1="269.70" y1="271.00" x2="276.70" y2="271.00" stroke="#111" stroke-width="2" />
<text x="266.70" y="275.50" font-size="12.8" font-weight="bold" text-anchor="end" fill="#111" stroke="#111" stroke-width="0.4" textLength="14.00" lengthAdjust="spacingAndGlyphs" >50</text>
<line x1="276.70" y1="416.50" x2="276.70" y2="423.50" stroke="#111" stroke-width="2" />
<text x="276.70" y="438.40" font-size="12.8" font-weight="bold" text-anchor="middle" fill="#111" stroke="#111" stroke-width="0.4" textLength="6.70" lengthAdjust="spacingAndGlyphs" >0</text>
<line x1="310.10" y1="416.50" x2="310.10" y2="423.50" stroke="#111" stroke-width="2" />
<text x="310.10" y="438.40" font-size="12.8" font-weight="bold" text-anchor="middle" fill="#111" stroke="#111" stroke-width="0.4" textLength="13.40" lengthAdjust="spacingAndGlyphs" >10</text>
<line x1="343.50" y1="416.50" x2="343.50" y2="423.50" stroke="#111" stroke-width="2" />
<text x="343.50" y="438.40" font-size="12.8" font-weight="bold" text-anchor="middle" fill="#111" stroke="#111" stroke-width="0.4" textLength="13.40" lengthAdjust="spacingAndGlyphs" >20</text>
<line x1="376.90" y1="416.50" x2="376.90" y2="423.50" stroke="#111" stroke-width="2" />
<text x="376.90" y="438.40" font-size="12.8" font-weight="bold" text-anchor="middle" fill="#111" stroke="#111" stroke-width="0.4" textLength="13.40" lengthAdjust="spacingAndGlyphs" >30</text>
<line x1="410.30" y1="416.50" x2="410.30" y2="423.50" stroke="#111" stroke-width="2" />
<text x="410.30" y="438.40" font-size="12.8" font-weight="bold" text-anchor="middle" fill="#111" stroke="#111" stroke-width="0.4" textLength="13.40" lengthAdjust="spacingAndGlyphs" >40</text>
<line x1="443.70" y1="416.50" x2="443.70" y2="423.50" stroke="#111" stroke-width="2" />
<text x="443.70" y="438.40" font-size="12.8" font-weight="bold" text-anchor="middle" fill="#111" stroke="#111" stroke-width="0.4" textLength="13.40" lengthAdjust="spacingAndGlyphs" >50</text>
<text x="360.20" y="458.10" font-size="13.8" font-weight="bold" text-anchor="middle" fill="#111" stroke="#111" stroke-width="0.4" textLength="64.20" lengthAdjust="spacingAndGlyphs" >EUS (mm)</text>
<text x="244.50" y="343.75" font-size="13.3" font-weight="bold" text-anchor="middle" fill="#111" stroke="#111" stroke-width="0.4" textLength="71.40" lengthAdjust="spacingAndGlyphs" transform="rotate(-90 244.50 343.75)" >TAUS (mm)</text>
<text x="382.30" y="392.20" font-size="13.3" font-weight="normal" text-anchor="start" fill="#111" stroke="#111" stroke-width="0.3" textLength="59.50" lengthAdjust="spacingAndGlyphs" >r = 0.7178</text>
<text x="382.30" y="408.50" font-size="13.3" font-weight="normal" text-anchor="start" fill="#111" stroke="#111" stroke-width="0.3" textLength="61.60" lengthAdjust="spacingAndGlyphs" >p &lt; 0.0001</text>
<text x="465.60" y="259.20" font-size="16.5" font-weight="bold" text-anchor="start" fill="#111" stroke="#111" stroke-width="0.4" >F</text>
<text x="591.00" y="257.80" font-size="13.5" font-weight="bold" text-anchor="middle" fill="#111" stroke="#111" stroke-width="0.4" textLength="134.40" lengthAdjust="spacingAndGlyphs" >EUS diameter &lt; 1 cm</text>
<circle cx="557.37" cy="370.39" r="3.9" fill="rgba(247,160,60,0.55)" stroke="rgba(95,65,35,0.7)" stroke-width="0.85"/>
<circle cx="574.26" cy="360.35" r="3.9" fill="rgba(247,160,60,0.55)" stroke="rgba(95,65,35,0.7)" stroke-width="0.85"/>
<circle cx="574.26" cy="370.39" r="3.9" fill="rgba(247,160,60,0.55)" stroke="rgba(95,65,35,0.7)" stroke-width="0.85"/>
<circle cx="574.26" cy="385.46" r="3.9" fill="rgba(247,160,60,0.55)" stroke="rgba(95,65,35,0.7)" stroke-width="0.85"/>
<circle cx="591.15" cy="365.37" r="3.9" fill="rgba(247,160,60,0.55)" stroke="rgba(95,65,35,0.7)" stroke-width="0.85"/>
<circle cx="591.15" cy="380.44" r="3.9" fill="rgba(247,160,60,0.55)" stroke="rgba(95,65,35,0.7)" stroke-width="0.85"/>
<circle cx="591.15" cy="380.44" r="3.9" fill="rgba(247,160,60,0.55)" stroke="rgba(95,65,35,0.7)" stroke-width="0.85"/>
<circle cx="591.15" cy="385.46" r="3.9" fill="rgba(247,160,60,0.55)" stroke="rgba(95,65,35,0.7)" stroke-width="0.85"/>
<circle cx="591.15" cy="390.49" r="3.9" fill="rgba(247,160,60,0.55)" stroke="rgba(95,65,35,0.7)" stroke-width="0.85"/>
<circle cx="591.15" cy="390.49" r="3.9" fill="rgba(247,160,60,0.55)" stroke="rgba(95,65,35,0.7)" stroke-width="0.85"/>
<circle cx="608.04" cy="279.98" r="3.9" fill="rgba(247,160,60,0.55)" stroke="rgba(95,65,35,0.7)" stroke-width="0.85"/>
<circle cx="608.04" cy="375.42" r="3.9" fill="rgba(247,160,60,0.55)" stroke="rgba(95,65,35,0.7)" stroke-width="0.85"/>
<circle cx="608.04" cy="380.44" r="3.9" fill="rgba(247,160,60,0.55)" stroke="rgba(95,65,35,0.7)" stroke-width="0.85"/>
<circle cx="624.93" cy="325.19" r="3.9" fill="rgba(247,160,60,0.55)" stroke="rgba(95,65,35,0.7)" stroke-width="0.85"/>
<circle cx="624.93" cy="325.19" r="3.9" fill="rgba(247,160,60,0.55)" stroke="rgba(95,65,35,0.7)" stroke-width="0.85"/>
<circle cx="624.93" cy="360.35" r="3.9" fill="rgba(247,160,60,0.55)" stroke="rgba(95,65,35,0.7)" stroke-width="0.85"/>
<circle cx="624.93" cy="370.39" r="3.9" fill="rgba(247,160,60,0.55)" stroke="rgba(95,65,35,0.7)" stroke-width="0.85"/>
<circle cx="624.93" cy="380.44" r="3.9" fill="rgba(247,160,60,0.55)" stroke="rgba(95,65,35,0.7)" stroke-width="0.85"/>
<circle cx="624.93" cy="380.44" r="3.9" fill="rgba(247,160,60,0.55)" stroke="rgba(95,65,35,0.7)" stroke-width="0.85"/>
<circle cx="641.82" cy="360.35" r="3.9" fill="rgba(247,160,60,0.55)" stroke="rgba(95,65,35,0.7)" stroke-width="0.85"/>
<circle cx="641.82" cy="380.44" r="3.9" fill="rgba(247,160,60,0.55)" stroke="rgba(95,65,35,0.7)" stroke-width="0.85"/>
<circle cx="641.82" cy="385.46" r="3.9" fill="rgba(247,160,60,0.55)" stroke="rgba(95,65,35,0.7)" stroke-width="0.85"/>
<circle cx="658.71" cy="370.39" r="3.9" fill="rgba(247,160,60,0.55)" stroke="rgba(95,65,35,0.7)" stroke-width="0.85"/>
<circle cx="658.71" cy="380.44" r="3.9" fill="rgba(247,160,60,0.55)" stroke="rgba(95,65,35,0.7)" stroke-width="0.85"/>
<line x1="506.70" y1="415.60" x2="675.60" y2="365.37" stroke="#222" stroke-width="2.1" stroke-dasharray="5.8 3.169"/>
<line x1="506.70" y1="263.91" x2="506.70" y2="422.60" stroke="#111" stroke-width="2" />
<line x1="499.70" y1="415.60" x2="676.60" y2="415.60" stroke="#111" stroke-width="2" />
<line x1="499.70" y1="415.60" x2="506.70" y2="415.60" stroke="#111" stroke-width="2" />
<text x="496.50" y="420.10" font-size="12.8" font-weight="bold" text-anchor="end" fill="#111" stroke="#111" stroke-width="0.4" textLength="7.00" lengthAdjust="spacingAndGlyphs" >0</text>
<line x1="499.70" y1="365.37" x2="506.70" y2="365.37" stroke="#111" stroke-width="2" />
<text x="496.50" y="369.87" font-size="12.8" font-weight="bold" text-anchor="end" fill="#111" stroke="#111" stroke-width="0.4" textLength="14.00" lengthAdjust="spacingAndGlyphs" >10</text>
<line x1="499.70" y1="315.14" x2="506.70" y2="315.14" stroke="#111" stroke-width="2" />
<text x="496.50" y="319.64" font-size="12.8" font-weight="bold" text-anchor="end" fill="#111" stroke="#111" stroke-width="0.4" textLength="14.00" lengthAdjust="spacingAndGlyphs" >20</text>
<line x1="499.70" y1="264.91" x2="506.70" y2="264.91" stroke="#111" stroke-width="2" />
<text x="496.50" y="269.41" font-size="12.8" font-weight="bold" text-anchor="end" fill="#111" stroke="#111" stroke-width="0.4" textLength="14.00" lengthAdjust="spacingAndGlyphs" >30</text>
<line x1="506.70" y1="415.60" x2="506.70" y2="422.60" stroke="#111" stroke-width="2" />
<text x="506.70" y="437.60" font-size="12.8" font-weight="bold" text-anchor="middle" fill="#111" stroke="#111" stroke-width="0.4" textLength="6.70" lengthAdjust="spacingAndGlyphs" >0</text>
<line x1="540.48" y1="415.60" x2="540.48" y2="422.60" stroke="#111" stroke-width="2" />
<text x="540.48" y="437.60" font-size="12.8" font-weight="bold" text-anchor="middle" fill="#111" stroke="#111" stroke-width="0.4" textLength="6.70" lengthAdjust="spacingAndGlyphs" >2</text>
<line x1="574.26" y1="415.60" x2="574.26" y2="422.60" stroke="#111" stroke-width="2" />
<text x="574.26" y="437.60" font-size="12.8" font-weight="bold" text-anchor="middle" fill="#111" stroke="#111" stroke-width="0.4" textLength="6.70" lengthAdjust="spacingAndGlyphs" >4</text>
<line x1="608.04" y1="415.60" x2="608.04" y2="422.60" stroke="#111" stroke-width="2" />
<text x="608.04" y="437.60" font-size="12.8" font-weight="bold" text-anchor="middle" fill="#111" stroke="#111" stroke-width="0.4" textLength="6.70" lengthAdjust="spacingAndGlyphs" >6</text>
<line x1="641.82" y1="415.60" x2="641.82" y2="422.60" stroke="#111" stroke-width="2" />
<text x="641.82" y="437.60" font-size="12.8" font-weight="bold" text-anchor="middle" fill="#111" stroke="#111" stroke-width="0.4" textLength="6.70" lengthAdjust="spacingAndGlyphs" >8</text>
<line x1="675.60" y1="415.60" x2="675.60" y2="422.60" stroke="#111" stroke-width="2" />
<text x="675.60" y="437.60" font-size="12.8" font-weight="bold" text-anchor="middle" fill="#111" stroke="#111" stroke-width="0.4" textLength="13.40" lengthAdjust="spacingAndGlyphs" >10</text>
<text x="591.15" y="458.10" font-size="13.8" font-weight="bold" text-anchor="middle" fill="#111" stroke="#111" stroke-width="0.4" textLength="64.90" lengthAdjust="spacingAndGlyphs" >EUS (mm)</text>
<text x="474.00" y="340.25" font-size="13.3" font-weight="bold" text-anchor="middle" fill="#111" stroke="#111" stroke-width="0.4" textLength="72.40" lengthAdjust="spacingAndGlyphs" transform="rotate(-90 474.00 340.25)" >TAUS (mm)</text>
<text x="512.60" y="282.50" font-size="13.3" font-weight="normal" text-anchor="start" fill="#111" stroke="#111" stroke-width="0.3" textLength="59.90" lengthAdjust="spacingAndGlyphs" >r = 0.1334</text>
<text x="512.60" y="298.90" font-size="13.3" font-weight="normal" text-anchor="start" fill="#111" stroke="#111" stroke-width="0.3" textLength="62.80" lengthAdjust="spacingAndGlyphs" >p = 0.5159</text>
</g></svg></body></html>
